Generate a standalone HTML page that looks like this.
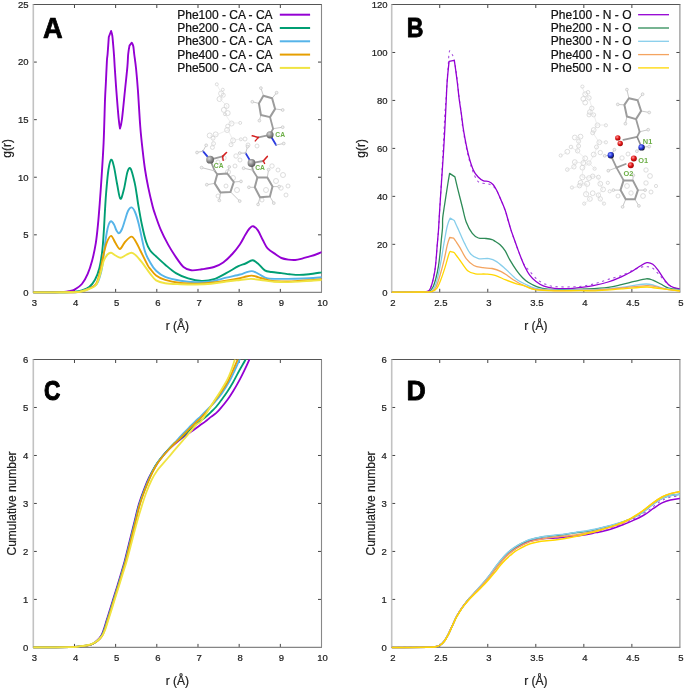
<!DOCTYPE html>
<html><head><meta charset="utf-8"><title>RDF plots</title>
<style>
html,body{margin:0;padding:0;background:#fff;}
body{width:685px;height:689px;overflow:hidden;}
svg{display:block;font-family:"Liberation Sans",sans-serif;}
svg{will-change:transform;}
</style></head><body>
<svg width="685" height="689" viewBox="0 0 685 689">
<rect width="685" height="689" fill="#fff"/>
<text x="0" y="0" font-size="29.5" font-weight="bold" fill="#000" stroke="#000" stroke-width="0.73" stroke-linejoin="round" transform="translate(43.07 38.15) scale(0.924 1)">A</text>
<text x="0" y="0" font-size="27.76" font-weight="bold" fill="#000" stroke="#000" stroke-width="0.87" stroke-linejoin="round" transform="translate(406.75 37.40) scale(0.833 1)">B</text>
<text x="0" y="0" font-size="27.6" font-weight="bold" fill="#000" stroke="#000" stroke-width="1.10" stroke-linejoin="round" transform="translate(43.90 399.93) scale(0.820 1)">C</text>
<text x="0" y="0" font-size="28.5" font-weight="bold" fill="#000" stroke="#000" stroke-width="0.83" stroke-linejoin="round" transform="translate(406.50 400.20) scale(0.939 1)">D</text>
<text x="34.40" y="305.70" font-size="9.5" text-anchor="middle" font-weight="normal" fill="#222" stroke="#222" stroke-width="0.22">3</text>
<text x="75.57" y="305.70" font-size="9.5" text-anchor="middle" font-weight="normal" fill="#222" stroke="#222" stroke-width="0.22">4</text>
<text x="116.74" y="305.70" font-size="9.5" text-anchor="middle" font-weight="normal" fill="#222" stroke="#222" stroke-width="0.22">5</text>
<text x="157.91" y="305.70" font-size="9.5" text-anchor="middle" font-weight="normal" fill="#222" stroke="#222" stroke-width="0.22">6</text>
<text x="199.09" y="305.70" font-size="9.5" text-anchor="middle" font-weight="normal" fill="#222" stroke="#222" stroke-width="0.22">7</text>
<text x="240.26" y="305.70" font-size="9.5" text-anchor="middle" font-weight="normal" fill="#222" stroke="#222" stroke-width="0.22">8</text>
<text x="281.43" y="305.70" font-size="9.5" text-anchor="middle" font-weight="normal" fill="#222" stroke="#222" stroke-width="0.22">9</text>
<text x="322.60" y="305.70" font-size="9.5" text-anchor="middle" font-weight="normal" fill="#222" stroke="#222" stroke-width="0.22">10</text>
<text x="28.60" y="295.70" font-size="9.5" text-anchor="end" font-weight="normal" fill="#222" stroke="#222" stroke-width="0.22">0</text>
<text x="28.60" y="238.12" font-size="9.5" text-anchor="end" font-weight="normal" fill="#222" stroke="#222" stroke-width="0.22">5</text>
<text x="28.60" y="180.54" font-size="9.5" text-anchor="end" font-weight="normal" fill="#222" stroke="#222" stroke-width="0.22">10</text>
<text x="28.60" y="122.96" font-size="9.5" text-anchor="end" font-weight="normal" fill="#222" stroke="#222" stroke-width="0.22">15</text>
<text x="28.60" y="65.38" font-size="9.5" text-anchor="end" font-weight="normal" fill="#222" stroke="#222" stroke-width="0.22">20</text>
<text x="28.60" y="7.80" font-size="9.5" text-anchor="end" font-weight="normal" fill="#222" stroke="#222" stroke-width="0.22">25</text>
<text x="392.80" y="305.70" font-size="9.5" text-anchor="middle" font-weight="normal" fill="#222" stroke="#222" stroke-width="0.22">2</text>
<text x="440.83" y="305.70" font-size="9.5" text-anchor="middle" font-weight="normal" fill="#222" stroke="#222" stroke-width="0.22">2.5</text>
<text x="488.87" y="305.70" font-size="9.5" text-anchor="middle" font-weight="normal" fill="#222" stroke="#222" stroke-width="0.22">3</text>
<text x="536.90" y="305.70" font-size="9.5" text-anchor="middle" font-weight="normal" fill="#222" stroke="#222" stroke-width="0.22">3.5</text>
<text x="584.93" y="305.70" font-size="9.5" text-anchor="middle" font-weight="normal" fill="#222" stroke="#222" stroke-width="0.22">4</text>
<text x="632.97" y="305.70" font-size="9.5" text-anchor="middle" font-weight="normal" fill="#222" stroke="#222" stroke-width="0.22">4.5</text>
<text x="681.00" y="305.70" font-size="9.5" text-anchor="middle" font-weight="normal" fill="#222" stroke="#222" stroke-width="0.22">5</text>
<text x="387.50" y="295.60" font-size="9.5" text-anchor="end" font-weight="normal" fill="#222" stroke="#222" stroke-width="0.22">0</text>
<text x="387.50" y="247.63" font-size="9.5" text-anchor="end" font-weight="normal" fill="#222" stroke="#222" stroke-width="0.22">20</text>
<text x="387.50" y="199.67" font-size="9.5" text-anchor="end" font-weight="normal" fill="#222" stroke="#222" stroke-width="0.22">40</text>
<text x="387.50" y="151.70" font-size="9.5" text-anchor="end" font-weight="normal" fill="#222" stroke="#222" stroke-width="0.22">60</text>
<text x="387.50" y="103.73" font-size="9.5" text-anchor="end" font-weight="normal" fill="#222" stroke="#222" stroke-width="0.22">80</text>
<text x="387.50" y="55.77" font-size="9.5" text-anchor="end" font-weight="normal" fill="#222" stroke="#222" stroke-width="0.22">100</text>
<text x="387.50" y="7.80" font-size="9.5" text-anchor="end" font-weight="normal" fill="#222" stroke="#222" stroke-width="0.22">120</text>
<text x="34.40" y="660.70" font-size="9.5" text-anchor="middle" font-weight="normal" fill="#222" stroke="#222" stroke-width="0.22">3</text>
<text x="75.57" y="660.70" font-size="9.5" text-anchor="middle" font-weight="normal" fill="#222" stroke="#222" stroke-width="0.22">4</text>
<text x="116.74" y="660.70" font-size="9.5" text-anchor="middle" font-weight="normal" fill="#222" stroke="#222" stroke-width="0.22">5</text>
<text x="157.91" y="660.70" font-size="9.5" text-anchor="middle" font-weight="normal" fill="#222" stroke="#222" stroke-width="0.22">6</text>
<text x="199.09" y="660.70" font-size="9.5" text-anchor="middle" font-weight="normal" fill="#222" stroke="#222" stroke-width="0.22">7</text>
<text x="240.26" y="660.70" font-size="9.5" text-anchor="middle" font-weight="normal" fill="#222" stroke="#222" stroke-width="0.22">8</text>
<text x="281.43" y="660.70" font-size="9.5" text-anchor="middle" font-weight="normal" fill="#222" stroke="#222" stroke-width="0.22">9</text>
<text x="322.60" y="660.70" font-size="9.5" text-anchor="middle" font-weight="normal" fill="#222" stroke="#222" stroke-width="0.22">10</text>
<text x="28.30" y="650.70" font-size="9.5" text-anchor="end" font-weight="normal" fill="#222" stroke="#222" stroke-width="0.22">0</text>
<text x="28.30" y="602.72" font-size="9.5" text-anchor="end" font-weight="normal" fill="#222" stroke="#222" stroke-width="0.22">1</text>
<text x="28.30" y="554.73" font-size="9.5" text-anchor="end" font-weight="normal" fill="#222" stroke="#222" stroke-width="0.22">2</text>
<text x="28.30" y="506.75" font-size="9.5" text-anchor="end" font-weight="normal" fill="#222" stroke="#222" stroke-width="0.22">3</text>
<text x="28.30" y="458.77" font-size="9.5" text-anchor="end" font-weight="normal" fill="#222" stroke="#222" stroke-width="0.22">4</text>
<text x="28.30" y="410.78" font-size="9.5" text-anchor="end" font-weight="normal" fill="#222" stroke="#222" stroke-width="0.22">5</text>
<text x="28.30" y="362.80" font-size="9.5" text-anchor="end" font-weight="normal" fill="#222" stroke="#222" stroke-width="0.22">6</text>
<text x="392.80" y="660.70" font-size="9.5" text-anchor="middle" font-weight="normal" fill="#222" stroke="#222" stroke-width="0.22">2</text>
<text x="440.83" y="660.70" font-size="9.5" text-anchor="middle" font-weight="normal" fill="#222" stroke="#222" stroke-width="0.22">2.5</text>
<text x="488.87" y="660.70" font-size="9.5" text-anchor="middle" font-weight="normal" fill="#222" stroke="#222" stroke-width="0.22">3</text>
<text x="536.90" y="660.70" font-size="9.5" text-anchor="middle" font-weight="normal" fill="#222" stroke="#222" stroke-width="0.22">3.5</text>
<text x="584.93" y="660.70" font-size="9.5" text-anchor="middle" font-weight="normal" fill="#222" stroke="#222" stroke-width="0.22">4</text>
<text x="632.97" y="660.70" font-size="9.5" text-anchor="middle" font-weight="normal" fill="#222" stroke="#222" stroke-width="0.22">4.5</text>
<text x="681.00" y="660.70" font-size="9.5" text-anchor="middle" font-weight="normal" fill="#222" stroke="#222" stroke-width="0.22">5</text>
<text x="386.90" y="650.70" font-size="9.5" text-anchor="end" font-weight="normal" fill="#222" stroke="#222" stroke-width="0.22">0</text>
<text x="386.90" y="602.72" font-size="9.5" text-anchor="end" font-weight="normal" fill="#222" stroke="#222" stroke-width="0.22">1</text>
<text x="386.90" y="554.73" font-size="9.5" text-anchor="end" font-weight="normal" fill="#222" stroke="#222" stroke-width="0.22">2</text>
<text x="386.90" y="506.75" font-size="9.5" text-anchor="end" font-weight="normal" fill="#222" stroke="#222" stroke-width="0.22">3</text>
<text x="386.90" y="458.77" font-size="9.5" text-anchor="end" font-weight="normal" fill="#222" stroke="#222" stroke-width="0.22">4</text>
<text x="386.90" y="410.78" font-size="9.5" text-anchor="end" font-weight="normal" fill="#222" stroke="#222" stroke-width="0.22">5</text>
<text x="386.90" y="362.80" font-size="9.5" text-anchor="end" font-weight="normal" fill="#222" stroke="#222" stroke-width="0.22">6</text>
<text x="177.40" y="329.60" font-size="12" text-anchor="middle" font-weight="normal" fill="#222" stroke="#222" stroke-width="0.22">r (&#197;)</text>
<text x="535.80" y="329.60" font-size="12" text-anchor="middle" font-weight="normal" fill="#222" stroke="#222" stroke-width="0.22">r (&#197;)</text>
<text x="177.40" y="684.60" font-size="12" text-anchor="middle" font-weight="normal" fill="#222" stroke="#222" stroke-width="0.22">r (&#197;)</text>
<text x="535.80" y="684.60" font-size="12" text-anchor="middle" font-weight="normal" fill="#222" stroke="#222" stroke-width="0.22">r (&#197;)</text>
<text x="0" y="0" font-size="12" text-anchor="middle" fill="#222" stroke="#222" stroke-width="0.22" transform="translate(10.80 148.45) rotate(-90)">g(r)</text>
<text x="0" y="0" font-size="12" text-anchor="middle" fill="#222" stroke="#222" stroke-width="0.22" transform="translate(364.90 148.40) rotate(-90)">g(r)</text>
<text x="0" y="0" font-size="12" text-anchor="middle" fill="#222" stroke="#222" stroke-width="0.22" transform="translate(16.00 503.45) rotate(-90)">Cumulative number</text>
<text x="0" y="0" font-size="12" text-anchor="middle" fill="#222" stroke="#222" stroke-width="0.22" transform="translate(374.80 503.45) rotate(-90)">Cumulative number</text>
<text x="272.60" y="18.70" font-size="12" text-anchor="end" font-weight="normal" fill="#111" stroke="#111" stroke-width="0.22">Phe100 - CA - CA</text>
<path d="M279.8 14.70H310.1" stroke="#9400d3" stroke-width="2"/>
<text x="631.50" y="18.70" font-size="12" text-anchor="end" font-weight="normal" fill="#111" stroke="#111" stroke-width="0.22">Phe100 - N - O</text>
<path d="M638.1 14.70H669.0" stroke="#9400d3" stroke-width="1.3"/>
<text x="272.60" y="32.00" font-size="12" text-anchor="end" font-weight="normal" fill="#111" stroke="#111" stroke-width="0.22">Phe200 - CA - CA</text>
<path d="M279.8 28.00H310.1" stroke="#009e73" stroke-width="2"/>
<text x="631.50" y="32.00" font-size="12" text-anchor="end" font-weight="normal" fill="#111" stroke="#111" stroke-width="0.22">Phe200 - N - O</text>
<path d="M638.1 28.00H669.0" stroke="#2e8b57" stroke-width="1.3"/>
<text x="272.60" y="45.30" font-size="12" text-anchor="end" font-weight="normal" fill="#111" stroke="#111" stroke-width="0.22">Phe300 - CA - CA</text>
<path d="M279.8 41.30H310.1" stroke="#56b4e9" stroke-width="2"/>
<text x="631.50" y="45.30" font-size="12" text-anchor="end" font-weight="normal" fill="#111" stroke="#111" stroke-width="0.22">Phe300 - N - O</text>
<path d="M638.1 41.30H669.0" stroke="#87ceeb" stroke-width="1.3"/>
<text x="272.60" y="58.60" font-size="12" text-anchor="end" font-weight="normal" fill="#111" stroke="#111" stroke-width="0.22">Phe400 - CA - CA</text>
<path d="M279.8 54.60H310.1" stroke="#e69f00" stroke-width="2"/>
<text x="631.50" y="58.60" font-size="12" text-anchor="end" font-weight="normal" fill="#111" stroke="#111" stroke-width="0.22">Phe400 - N - O</text>
<path d="M638.1 54.60H669.0" stroke="#f4a460" stroke-width="1.3"/>
<text x="272.60" y="71.90" font-size="12" text-anchor="end" font-weight="normal" fill="#111" stroke="#111" stroke-width="0.22">Phe500 - CA - CA</text>
<path d="M279.8 67.90H310.1" stroke="#f0e442" stroke-width="2"/>
<text x="631.50" y="71.90" font-size="12" text-anchor="end" font-weight="normal" fill="#111" stroke="#111" stroke-width="0.22">Phe500 - N - O</text>
<path d="M638.1 67.90H669.0" stroke="#ffd700" stroke-width="1.3"/>
<path d="M74.47 292.40V288.90M74.47 4.50V8.00M115.64 292.40V288.90M115.64 4.50V8.00M156.81 292.40V288.90M156.81 4.50V8.00M197.99 292.40V288.90M197.99 4.50V8.00M239.16 292.40V288.90M239.16 4.50V8.00M280.33 292.40V288.90M280.33 4.50V8.00M33.30 234.82H36.80M321.50 234.82H318.00M33.30 177.24H36.80M321.50 177.24H318.00M33.30 119.66H36.80M321.50 119.66H318.00M33.30 62.08H36.80M321.50 62.08H318.00" stroke="#444" stroke-width="1" fill="none"/>
<path d="M32.80 4.50H322.00" stroke="#555" stroke-width="1.05" fill="none"/>
<path d="M32.80 292.40H322.00" stroke="#858585" stroke-width="1.1" fill="none"/>
<path d="M33.30 4.50V292.40" stroke="#c2c2c2" stroke-width="1.6" fill="none"/>
<path d="M321.50 4.50V292.40" stroke="#888" stroke-width="1.1" fill="none"/>
<path d="M439.73 292.30V288.80M439.73 4.50V8.00M487.77 292.30V288.80M487.77 4.50V8.00M535.80 292.30V288.80M535.80 4.50V8.00M583.83 292.30V288.80M583.83 4.50V8.00M631.87 292.30V288.80M631.87 4.50V8.00M391.70 244.33H395.20M679.90 244.33H676.40M391.70 196.37H395.20M679.90 196.37H676.40M391.70 148.40H395.20M679.90 148.40H676.40M391.70 100.43H395.20M679.90 100.43H676.40M391.70 52.47H395.20M679.90 52.47H676.40" stroke="#444" stroke-width="1" fill="none"/>
<path d="M391.20 4.50H680.40" stroke="#555" stroke-width="1.05" fill="none"/>
<path d="M391.20 292.30H680.40" stroke="#858585" stroke-width="1.1" fill="none"/>
<path d="M391.70 4.50V292.30" stroke="#c2c2c2" stroke-width="1.6" fill="none"/>
<path d="M679.90 4.50V292.30" stroke="#888" stroke-width="1.1" fill="none"/>
<path d="M74.47 647.40V643.90M74.47 359.50V363.00M115.64 647.40V643.90M115.64 359.50V363.00M156.81 647.40V643.90M156.81 359.50V363.00M197.99 647.40V643.90M197.99 359.50V363.00M239.16 647.40V643.90M239.16 359.50V363.00M280.33 647.40V643.90M280.33 359.50V363.00M33.30 599.42H36.80M321.50 599.42H318.00M33.30 551.43H36.80M321.50 551.43H318.00M33.30 503.45H36.80M321.50 503.45H318.00M33.30 455.47H36.80M321.50 455.47H318.00M33.30 407.48H36.80M321.50 407.48H318.00" stroke="#444" stroke-width="1" fill="none"/>
<path d="M32.80 359.50H322.00" stroke="#555" stroke-width="1.05" fill="none"/>
<path d="M32.80 647.40H322.00" stroke="#858585" stroke-width="1.1" fill="none"/>
<path d="M33.30 359.50V647.40" stroke="#c2c2c2" stroke-width="1.6" fill="none"/>
<path d="M321.50 359.50V647.40" stroke="#888" stroke-width="1.1" fill="none"/>
<path d="M439.73 647.40V643.90M439.73 359.50V363.00M487.77 647.40V643.90M487.77 359.50V363.00M535.80 647.40V643.90M535.80 359.50V363.00M583.83 647.40V643.90M583.83 359.50V363.00M631.87 647.40V643.90M631.87 359.50V363.00M391.70 599.42H395.20M679.90 599.42H676.40M391.70 551.43H395.20M679.90 551.43H676.40M391.70 503.45H395.20M679.90 503.45H676.40M391.70 455.47H395.20M679.90 455.47H676.40M391.70 407.48H395.20M679.90 407.48H676.40" stroke="#444" stroke-width="1" fill="none"/>
<path d="M391.20 359.50H680.40" stroke="#555" stroke-width="1.05" fill="none"/>
<path d="M391.20 647.40H680.40" stroke="#858585" stroke-width="1.1" fill="none"/>
<path d="M391.70 359.50V647.40" stroke="#c2c2c2" stroke-width="1.6" fill="none"/>
<path d="M679.90 359.50V647.40" stroke="#888" stroke-width="1.1" fill="none"/>
<defs>
<radialGradient id="gball" cx="0.38" cy="0.35" r="0.7"><stop offset="0" stop-color="#d8d8d8"/><stop offset="0.55" stop-color="#8a8a8a"/><stop offset="1" stop-color="#555"/></radialGradient>
<radialGradient id="gred" cx="0.38" cy="0.35" r="0.7"><stop offset="0" stop-color="#ff9a9a"/><stop offset="0.5" stop-color="#e01818"/><stop offset="1" stop-color="#900"/></radialGradient>
<radialGradient id="gblue" cx="0.38" cy="0.35" r="0.7"><stop offset="0" stop-color="#9aa8ff"/><stop offset="0.5" stop-color="#2233dd"/><stop offset="1" stop-color="#112"/></radialGradient>
</defs><g><circle cx="216.8" cy="84.3" r="1.5" fill="none" stroke="#cfcfcf" stroke-width="0.7"/><circle cx="221.1" cy="93.5" r="2.5" fill="none" stroke="#cfcfcf" stroke-width="0.7"/><circle cx="223.3" cy="95.2" r="2" fill="none" stroke="#cfcfcf" stroke-width="0.7"/><circle cx="219.5" cy="99.0" r="2.5" fill="none" stroke="#cfcfcf" stroke-width="0.7"/><circle cx="222.8" cy="89.7" r="1.5" fill="none" stroke="#cfcfcf" stroke-width="0.7"/><circle cx="226.6" cy="106.0" r="2.5" fill="none" stroke="#cfcfcf" stroke-width="0.7"/><circle cx="223.9" cy="109.9" r="2.5" fill="none" stroke="#cfcfcf" stroke-width="0.7"/><circle cx="227.7" cy="113.1" r="2.5" fill="none" stroke="#cfcfcf" stroke-width="0.7"/><circle cx="225.0" cy="114.2" r="1.5" fill="none" stroke="#cfcfcf" stroke-width="0.7"/><circle cx="231.5" cy="123.5" r="2.5" fill="none" stroke="#cfcfcf" stroke-width="0.7"/><circle cx="227.7" cy="126.2" r="2" fill="none" stroke="#cfcfcf" stroke-width="0.7"/><circle cx="227.1" cy="130.0" r="2.5" fill="none" stroke="#cfcfcf" stroke-width="0.7"/><circle cx="240.2" cy="122.9" r="1.5" fill="none" stroke="#cfcfcf" stroke-width="0.7"/><circle cx="215.7" cy="134.4" r="2.5" fill="none" stroke="#cfcfcf" stroke-width="0.7"/><circle cx="209.7" cy="135.5" r="2.5" fill="none" stroke="#cfcfcf" stroke-width="0.7"/><circle cx="213.0" cy="138.2" r="2" fill="none" stroke="#cfcfcf" stroke-width="0.7"/><circle cx="233.1" cy="140.4" r="2.5" fill="none" stroke="#cfcfcf" stroke-width="0.7"/><circle cx="240.8" cy="139.3" r="1.5" fill="none" stroke="#cfcfcf" stroke-width="0.7"/><circle cx="213.5" cy="143.6" r="2" fill="none" stroke="#cfcfcf" stroke-width="0.7"/><circle cx="231.0" cy="144.7" r="2" fill="none" stroke="#cfcfcf" stroke-width="0.7"/><circle cx="212.4" cy="147.4" r="2" fill="none" stroke="#cfcfcf" stroke-width="0.7"/><circle cx="218.0" cy="162.0" r="2" fill="none" stroke="#cfcfcf" stroke-width="0.7"/><circle cx="224.0" cy="158.0" r="2.2" fill="none" stroke="#cfcfcf" stroke-width="0.7"/><circle cx="236.0" cy="156.0" r="2.2" fill="none" stroke="#cfcfcf" stroke-width="0.7"/><circle cx="240.0" cy="160.0" r="2" fill="none" stroke="#cfcfcf" stroke-width="0.7"/><circle cx="235.0" cy="166.0" r="2" fill="none" stroke="#cfcfcf" stroke-width="0.7"/><circle cx="228.0" cy="172.0" r="2.5" fill="none" stroke="#cfcfcf" stroke-width="0.7"/><circle cx="233.0" cy="178.0" r="2.5" fill="none" stroke="#cfcfcf" stroke-width="0.7"/><circle cx="226.0" cy="186.0" r="2" fill="none" stroke="#cfcfcf" stroke-width="0.7"/><circle cx="237.0" cy="190.0" r="2.5" fill="none" stroke="#cfcfcf" stroke-width="0.7"/><circle cx="218.0" cy="196.0" r="2" fill="none" stroke="#cfcfcf" stroke-width="0.7"/><circle cx="272.0" cy="166.0" r="2.2" fill="none" stroke="#cfcfcf" stroke-width="0.7"/><circle cx="278.0" cy="170.0" r="2" fill="none" stroke="#cfcfcf" stroke-width="0.7"/><circle cx="283.0" cy="175.0" r="2.5" fill="none" stroke="#cfcfcf" stroke-width="0.7"/><circle cx="276.0" cy="181.0" r="2.5" fill="none" stroke="#cfcfcf" stroke-width="0.7"/><circle cx="281.0" cy="188.0" r="2.2" fill="none" stroke="#cfcfcf" stroke-width="0.7"/><circle cx="288.0" cy="186.0" r="2" fill="none" stroke="#cfcfcf" stroke-width="0.7"/><circle cx="286.0" cy="195.0" r="2" fill="none" stroke="#cfcfcf" stroke-width="0.7"/><circle cx="266.0" cy="190.0" r="2.5" fill="none" stroke="#cfcfcf" stroke-width="0.7"/><circle cx="262.0" cy="200.0" r="2" fill="none" stroke="#cfcfcf" stroke-width="0.7"/><circle cx="245.0" cy="139.0" r="2" fill="none" stroke="#cfcfcf" stroke-width="0.7"/><circle cx="248.0" cy="145.0" r="2" fill="none" stroke="#cfcfcf" stroke-width="0.7"/><circle cx="257.0" cy="146.0" r="2" fill="none" stroke="#cfcfcf" stroke-width="0.7"/><path d="M217 85L222 94L220 99L227 106L225 114L231 123L228 130L216 135L210 136M231 123L240 123M228 130L233 140L241 139M233 140L231 145M213 138L213 144L212 147" fill="none" stroke="#e2e2e2" stroke-width="0.6"/><path d="M263.4 95.7L260.9 88.1" stroke="#c8c8c8" stroke-width="1.0" stroke-linecap="round"/><circle cx="260.9" cy="88.1" r="1.4" fill="#f2f2f2" stroke="#c4c4c4" stroke-width="0.7"/><path d="M272.1 98.3L276.6 92.7" stroke="#c8c8c8" stroke-width="1.0" stroke-linecap="round"/><circle cx="276.6" cy="92.7" r="1.4" fill="#f2f2f2" stroke="#c4c4c4" stroke-width="0.7"/><path d="M275.1 108.9L282.7 110.0" stroke="#c8c8c8" stroke-width="1.0" stroke-linecap="round"/><circle cx="282.7" cy="110.0" r="1.4" fill="#f2f2f2" stroke="#c4c4c4" stroke-width="0.7"/><path d="M260.9 115.0L259.4 120.6" stroke="#c8c8c8" stroke-width="1.0" stroke-linecap="round"/><circle cx="259.4" cy="120.6" r="1.4" fill="#f2f2f2" stroke="#c4c4c4" stroke-width="0.7"/><path d="M258.9 103.4L252.3 101.8" stroke="#c8c8c8" stroke-width="1.0" stroke-linecap="round"/><circle cx="252.3" cy="101.8" r="1.4" fill="#f2f2f2" stroke="#c4c4c4" stroke-width="0.7"/><path d="M263.4 95.7 L272.1 98.3 L275.1 108.9 L270.0 117.1 L260.9 115.0 L258.9 103.4 Z" fill="none" stroke="#9c9c9c" stroke-width="2.0" stroke-linejoin="round"/><path d="M270.0 117.1L273.1 128.7" stroke="#9c9c9c" stroke-width="1.8" stroke-linecap="round"/><path d="M273.1 128.7L282.7 127.2" stroke="#c8c8c8" stroke-width="1.0" stroke-linecap="round"/><circle cx="282.7" cy="127.2" r="1.4" fill="#f2f2f2" stroke="#c4c4c4" stroke-width="0.7"/><path d="M273.1 128.7L270.0 134.8" stroke="#9c9c9c" stroke-width="1.8" stroke-linecap="round"/><path d="M270.0 134.8L258.4 137.4" stroke="#9c9c9c" stroke-width="1.8" stroke-linecap="round"/><path d="M258.4 137.4L252.3 135.8" stroke="#d42020" stroke-width="1.6" stroke-linecap="round"/><path d="M258.4 137.4L255.3 140.9" stroke="#d42020" stroke-width="1.4" stroke-linecap="round"/><path d="M270.0 134.8L276.1 145.0" stroke="#2b3be0" stroke-width="1.8" stroke-linecap="round"/><path d="M276.1 145.0L283.7 143.5" stroke="#c8c8c8" stroke-width="1.0" stroke-linecap="round"/><circle cx="283.7" cy="143.5" r="1.4" fill="#f2f2f2" stroke="#c4c4c4" stroke-width="0.7"/><circle cx="270.0" cy="134.8" r="3.6" fill="url(#gball)"/><text x="275.3" y="136.6" font-size="6.7" font-weight="bold" fill="#6cae46">CA</text><path d="M227.2 173.5L229.2 166.9" stroke="#c8c8c8" stroke-width="1.0" stroke-linecap="round"/><circle cx="229.2" cy="166.9" r="1.4" fill="#f2f2f2" stroke="#c4c4c4" stroke-width="0.7"/><path d="M233.8 182.0L241.0 181.4" stroke="#c8c8c8" stroke-width="1.0" stroke-linecap="round"/><circle cx="241.0" cy="181.4" r="1.4" fill="#f2f2f2" stroke="#c4c4c4" stroke-width="0.7"/><path d="M230.5 191.9L239.7 201.1" stroke="#c8c8c8" stroke-width="1.0" stroke-linecap="round"/><circle cx="239.7" cy="201.1" r="1.4" fill="#f2f2f2" stroke="#c4c4c4" stroke-width="0.7"/><path d="M220.6 192.6L219.3 200.4" stroke="#c8c8c8" stroke-width="1.0" stroke-linecap="round"/><circle cx="219.3" cy="200.4" r="1.4" fill="#f2f2f2" stroke="#c4c4c4" stroke-width="0.7"/><path d="M214.7 183.4L206.8 184.7" stroke="#c8c8c8" stroke-width="1.0" stroke-linecap="round"/><circle cx="206.8" cy="184.7" r="1.4" fill="#f2f2f2" stroke="#c4c4c4" stroke-width="0.7"/><path d="M217.3 174.2 L227.2 173.5 L233.8 182.0 L230.5 191.9 L220.6 192.6 L214.7 183.4 Z" fill="none" stroke="#9c9c9c" stroke-width="2.0" stroke-linejoin="round"/><path d="M210.1 159.7L214.7 170.9" stroke="#9c9c9c" stroke-width="1.8" stroke-linecap="round"/><path d="M214.7 170.9L217.3 174.2" stroke="#9c9c9c" stroke-width="1.8" stroke-linecap="round"/><path d="M214.7 170.9L201.6 167.6" stroke="#c8c8c8" stroke-width="1.0" stroke-linecap="round"/><circle cx="201.6" cy="167.6" r="1.4" fill="#f2f2f2" stroke="#c4c4c4" stroke-width="0.7"/><path d="M210.1 159.7L222.6 156.4" stroke="#9c9c9c" stroke-width="1.8" stroke-linecap="round"/><path d="M222.6 156.4L226.5 152.5" stroke="#d42020" stroke-width="1.6" stroke-linecap="round"/><path d="M222.6 156.4L223.2 160.4" stroke="#d42020" stroke-width="1.4" stroke-linecap="round"/><path d="M210.1 159.7L202.9 151.2" stroke="#2b3be0" stroke-width="1.8" stroke-linecap="round"/><path d="M202.9 151.2L197.0 152.5" stroke="#c8c8c8" stroke-width="1.0" stroke-linecap="round"/><circle cx="197.0" cy="152.5" r="1.4" fill="#f2f2f2" stroke="#c4c4c4" stroke-width="0.7"/><path d="M202.9 151.2L206.2 145.3" stroke="#c8c8c8" stroke-width="1.0" stroke-linecap="round"/><circle cx="206.2" cy="145.3" r="1.4" fill="#f2f2f2" stroke="#c4c4c4" stroke-width="0.7"/><circle cx="210.1" cy="159.7" r="3.9" fill="url(#gball)"/><text x="213.8" y="167.6" font-size="6.7" font-weight="bold" fill="#6cae46">CA</text><path d="M267.3 177.4L268.6 169.6" stroke="#c8c8c8" stroke-width="1.0" stroke-linecap="round"/><circle cx="268.6" cy="169.6" r="1.4" fill="#f2f2f2" stroke="#c4c4c4" stroke-width="0.7"/><path d="M272.5 186.6L279.1 186.6" stroke="#c8c8c8" stroke-width="1.0" stroke-linecap="round"/><circle cx="279.1" cy="186.6" r="1.4" fill="#f2f2f2" stroke="#c4c4c4" stroke-width="0.7"/><path d="M269.9 196.5L273.8 203.1" stroke="#c8c8c8" stroke-width="1.0" stroke-linecap="round"/><circle cx="273.8" cy="203.1" r="1.4" fill="#f2f2f2" stroke="#c4c4c4" stroke-width="0.7"/><path d="M260.0 197.2L258.1 204.4" stroke="#c8c8c8" stroke-width="1.0" stroke-linecap="round"/><circle cx="258.1" cy="204.4" r="1.4" fill="#f2f2f2" stroke="#c4c4c4" stroke-width="0.7"/><path d="M254.8 187.3L248.9 187.3" stroke="#c8c8c8" stroke-width="1.0" stroke-linecap="round"/><circle cx="248.9" cy="187.3" r="1.4" fill="#f2f2f2" stroke="#c4c4c4" stroke-width="0.7"/><path d="M257.4 177.4 L267.3 177.4 L272.5 186.6 L269.9 196.5 L260.0 197.2 L254.8 187.3 Z" fill="none" stroke="#9c9c9c" stroke-width="2.0" stroke-linejoin="round"/><path d="M251.5 163.0L252.8 170.2" stroke="#9c9c9c" stroke-width="1.8" stroke-linecap="round"/><path d="M252.8 170.2L257.4 177.4" stroke="#9c9c9c" stroke-width="1.8" stroke-linecap="round"/><path d="M252.8 170.2L243.6 168.2" stroke="#c8c8c8" stroke-width="1.0" stroke-linecap="round"/><circle cx="243.6" cy="168.2" r="1.4" fill="#f2f2f2" stroke="#c4c4c4" stroke-width="0.7"/><path d="M251.5 163.0L263.3 161.0" stroke="#9c9c9c" stroke-width="1.8" stroke-linecap="round"/><path d="M263.3 161.0L267.3 156.4" stroke="#d42020" stroke-width="1.6" stroke-linecap="round"/><path d="M263.3 161.0L264.6 163.5" stroke="#d42020" stroke-width="1.4" stroke-linecap="round"/><path d="M251.5 163.0L245.6 153.1" stroke="#2b3be0" stroke-width="1.8" stroke-linecap="round"/><path d="M245.6 153.1L239.7 153.1" stroke="#c8c8c8" stroke-width="1.0" stroke-linecap="round"/><circle cx="239.7" cy="153.1" r="1.4" fill="#f2f2f2" stroke="#c4c4c4" stroke-width="0.7"/><path d="M245.6 153.1L247.6 146.6" stroke="#c8c8c8" stroke-width="1.0" stroke-linecap="round"/><circle cx="247.6" cy="146.6" r="1.4" fill="#f2f2f2" stroke="#c4c4c4" stroke-width="0.7"/><circle cx="251.5" cy="163.0" r="3.9" fill="url(#gball)"/><text x="255.2" y="169.6" font-size="6.7" font-weight="bold" fill="#6cae46">CA</text></g>
<g><circle cx="582.4" cy="86.6" r="1.6" fill="none" stroke="#cfcfcf" stroke-width="0.7"/><circle cx="585.2" cy="94.2" r="2.4" fill="none" stroke="#cfcfcf" stroke-width="0.7"/><circle cx="588.0" cy="92.3" r="1.8" fill="none" stroke="#cfcfcf" stroke-width="0.7"/><circle cx="583.3" cy="98.9" r="2.4" fill="none" stroke="#cfcfcf" stroke-width="0.7"/><circle cx="589.0" cy="97.9" r="2.2" fill="none" stroke="#cfcfcf" stroke-width="0.7"/><circle cx="585.2" cy="102.6" r="2.4" fill="none" stroke="#cfcfcf" stroke-width="0.7"/><circle cx="591.8" cy="108.3" r="2.2" fill="none" stroke="#cfcfcf" stroke-width="0.7"/><circle cx="589.9" cy="112.1" r="2.4" fill="none" stroke="#cfcfcf" stroke-width="0.7"/><circle cx="593.7" cy="114.9" r="2" fill="none" stroke="#cfcfcf" stroke-width="0.7"/><circle cx="589.0" cy="114.9" r="2" fill="none" stroke="#cfcfcf" stroke-width="0.7"/><circle cx="597.5" cy="125.3" r="2.4" fill="none" stroke="#cfcfcf" stroke-width="0.7"/><circle cx="593.7" cy="130.0" r="2.4" fill="none" stroke="#cfcfcf" stroke-width="0.7"/><circle cx="592.7" cy="132.8" r="2" fill="none" stroke="#cfcfcf" stroke-width="0.7"/><circle cx="605.9" cy="125.3" r="1.6" fill="none" stroke="#cfcfcf" stroke-width="0.7"/><circle cx="574.8" cy="137.5" r="2.4" fill="none" stroke="#cfcfcf" stroke-width="0.7"/><circle cx="580.5" cy="136.6" r="2.4" fill="none" stroke="#cfcfcf" stroke-width="0.7"/><circle cx="578.6" cy="141.3" r="2" fill="none" stroke="#cfcfcf" stroke-width="0.7"/><circle cx="599.3" cy="142.3" r="2.4" fill="none" stroke="#cfcfcf" stroke-width="0.7"/><circle cx="605.9" cy="142.3" r="1.6" fill="none" stroke="#cfcfcf" stroke-width="0.7"/><circle cx="596.5" cy="147.0" r="2" fill="none" stroke="#cfcfcf" stroke-width="0.7"/><circle cx="571.0" cy="147.0" r="1.8" fill="none" stroke="#cfcfcf" stroke-width="0.7"/><circle cx="578.6" cy="146.0" r="2" fill="none" stroke="#cfcfcf" stroke-width="0.7"/><circle cx="567.3" cy="151.7" r="2.4" fill="none" stroke="#cfcfcf" stroke-width="0.7"/><circle cx="560.7" cy="155.5" r="1.6" fill="none" stroke="#cfcfcf" stroke-width="0.7"/><circle cx="577.6" cy="150.8" r="2.2" fill="none" stroke="#cfcfcf" stroke-width="0.7"/><circle cx="593.7" cy="154.5" r="2.4" fill="none" stroke="#cfcfcf" stroke-width="0.7"/><circle cx="600.3" cy="152.6" r="2.2" fill="none" stroke="#cfcfcf" stroke-width="0.7"/><circle cx="585.2" cy="158.3" r="2.4" fill="none" stroke="#cfcfcf" stroke-width="0.7"/><circle cx="574.8" cy="162.1" r="2.4" fill="none" stroke="#cfcfcf" stroke-width="0.7"/><circle cx="583.3" cy="163.0" r="2.4" fill="none" stroke="#cfcfcf" stroke-width="0.7"/><circle cx="589.0" cy="163.0" r="2.2" fill="none" stroke="#cfcfcf" stroke-width="0.7"/><circle cx="573.9" cy="166.8" r="2.2" fill="none" stroke="#cfcfcf" stroke-width="0.7"/><circle cx="582.4" cy="167.7" r="2.4" fill="none" stroke="#cfcfcf" stroke-width="0.7"/><circle cx="567.3" cy="169.6" r="1.8" fill="none" stroke="#cfcfcf" stroke-width="0.7"/><circle cx="594.6" cy="168.7" r="1.6" fill="none" stroke="#cfcfcf" stroke-width="0.7"/><circle cx="582.4" cy="177.2" r="2.6" fill="none" stroke="#cfcfcf" stroke-width="0.7"/><circle cx="589.0" cy="178.1" r="2.4" fill="none" stroke="#cfcfcf" stroke-width="0.7"/><circle cx="592.7" cy="176.2" r="2.2" fill="none" stroke="#cfcfcf" stroke-width="0.7"/><circle cx="598.4" cy="177.2" r="2" fill="none" stroke="#cfcfcf" stroke-width="0.7"/><circle cx="580.5" cy="182.8" r="2.4" fill="none" stroke="#cfcfcf" stroke-width="0.7"/><circle cx="587.1" cy="183.8" r="2.6" fill="none" stroke="#cfcfcf" stroke-width="0.7"/><circle cx="600.3" cy="183.8" r="2.4" fill="none" stroke="#cfcfcf" stroke-width="0.7"/><circle cx="607.8" cy="182.8" r="1.6" fill="none" stroke="#cfcfcf" stroke-width="0.7"/><circle cx="572.0" cy="187.5" r="1.6" fill="none" stroke="#cfcfcf" stroke-width="0.7"/><circle cx="579.5" cy="185.7" r="2.2" fill="none" stroke="#cfcfcf" stroke-width="0.7"/><circle cx="603.1" cy="189.4" r="2.4" fill="none" stroke="#cfcfcf" stroke-width="0.7"/><circle cx="609.7" cy="191.3" r="1.6" fill="none" stroke="#cfcfcf" stroke-width="0.7"/><circle cx="586.1" cy="194.2" r="2.6" fill="none" stroke="#cfcfcf" stroke-width="0.7"/><circle cx="592.7" cy="193.2" r="2.4" fill="none" stroke="#cfcfcf" stroke-width="0.7"/><circle cx="598.4" cy="195.1" r="2.2" fill="none" stroke="#cfcfcf" stroke-width="0.7"/><circle cx="589.9" cy="198.9" r="2.4" fill="none" stroke="#cfcfcf" stroke-width="0.7"/><circle cx="600.3" cy="198.9" r="2.2" fill="none" stroke="#cfcfcf" stroke-width="0.7"/><circle cx="584.2" cy="203.6" r="1.6" fill="none" stroke="#cfcfcf" stroke-width="0.7"/><circle cx="604.0" cy="203.6" r="1.6" fill="none" stroke="#cfcfcf" stroke-width="0.7"/><circle cx="622.0" cy="158.0" r="2.2" fill="none" stroke="#cfcfcf" stroke-width="0.7"/><circle cx="628.0" cy="154.0" r="2" fill="none" stroke="#cfcfcf" stroke-width="0.7"/><circle cx="646.0" cy="170.0" r="2.2" fill="none" stroke="#cfcfcf" stroke-width="0.7"/><circle cx="650.0" cy="176.0" r="2.4" fill="none" stroke="#cfcfcf" stroke-width="0.7"/><circle cx="646.0" cy="183.0" r="2.2" fill="none" stroke="#cfcfcf" stroke-width="0.7"/><circle cx="651.0" cy="192.0" r="2" fill="none" stroke="#cfcfcf" stroke-width="0.7"/><circle cx="643.0" cy="196.0" r="2.4" fill="none" stroke="#cfcfcf" stroke-width="0.7"/><circle cx="656.0" cy="186.0" r="1.6" fill="none" stroke="#cfcfcf" stroke-width="0.7"/><circle cx="627.0" cy="186.0" r="2.4" fill="none" stroke="#cfcfcf" stroke-width="0.7"/><circle cx="631.0" cy="193.0" r="2.2" fill="none" stroke="#cfcfcf" stroke-width="0.7"/><circle cx="618.0" cy="196.0" r="2" fill="none" stroke="#cfcfcf" stroke-width="0.7"/><path d="M582 87L585 94L589 98L592 108L590 112L594 115L597 125L594 130L593 133L599 142L597 147L594 155L589 163L583 168L582 177L589 178L592 176L598 177L600 184L603 189L598 195L600 199L604 204M597 125L606 125M575 138L580 137L579 141L578 146L577 151L571 147M567 152L561 156M577 151L585 158L583 163L575 162L574 167L567 170M589 163L595 169M580 183L587 184L586 194L590 199L584 204M587 184L580 186L572 188M599 142L606 142" fill="none" stroke="#e0e0e0" stroke-width="0.6"/><path d="M628.9 98.3L626.9 89.6" stroke="#c8c8c8" stroke-width="1.0" stroke-linecap="round"/><circle cx="626.9" cy="89.6" r="1.4" fill="#f2f2f2" stroke="#c4c4c4" stroke-width="0.7"/><path d="M637.6 100.3L642.6 94.2" stroke="#c8c8c8" stroke-width="1.0" stroke-linecap="round"/><circle cx="642.6" cy="94.2" r="1.4" fill="#f2f2f2" stroke="#c4c4c4" stroke-width="0.7"/><path d="M641.1 111.0L649.2 112.5" stroke="#c8c8c8" stroke-width="1.0" stroke-linecap="round"/><circle cx="649.2" cy="112.5" r="1.4" fill="#f2f2f2" stroke="#c4c4c4" stroke-width="0.7"/><path d="M626.9 116.5L625.4 123.7" stroke="#c8c8c8" stroke-width="1.0" stroke-linecap="round"/><circle cx="625.4" cy="123.7" r="1.4" fill="#f2f2f2" stroke="#c4c4c4" stroke-width="0.7"/><path d="M624.4 104.9L617.8 104.4" stroke="#c8c8c8" stroke-width="1.0" stroke-linecap="round"/><circle cx="617.8" cy="104.4" r="1.4" fill="#f2f2f2" stroke="#c4c4c4" stroke-width="0.7"/><path d="M628.9 98.3 L637.6 100.3 L641.1 111.0 L636.0 119.1 L626.9 116.5 L624.4 104.9 Z" fill="none" stroke="#9c9c9c" stroke-width="2.0" stroke-linejoin="round"/><path d="M636.0 119.1L639.6 131.8" stroke="#9c9c9c" stroke-width="1.8" stroke-linecap="round"/><path d="M639.6 131.8L648.2 129.7" stroke="#c8c8c8" stroke-width="1.0" stroke-linecap="round"/><circle cx="648.2" cy="129.7" r="1.4" fill="#f2f2f2" stroke="#c4c4c4" stroke-width="0.7"/><path d="M639.6 131.8L637.1 136.9" stroke="#9c9c9c" stroke-width="1.8" stroke-linecap="round"/><path d="M637.1 136.9L623.4 139.9" stroke="#9c9c9c" stroke-width="1.8" stroke-linecap="round"/><path d="M637.1 136.9L641.6 147.2" stroke="#8c8c8c" stroke-width="1.6" stroke-linecap="round"/><path d="M641.6 147.2L649.2 146.6" stroke="#c8c8c8" stroke-width="1.0" stroke-linecap="round"/><circle cx="649.2" cy="146.6" r="1.4" fill="#f2f2f2" stroke="#c4c4c4" stroke-width="0.7"/><path d="M641.6 147.2L636.9 151.2" stroke="#c8c8c8" stroke-width="1.0" stroke-linecap="round"/><circle cx="636.9" cy="151.2" r="1.4" fill="#f2f2f2" stroke="#c4c4c4" stroke-width="0.7"/><circle cx="617.8" cy="137.9" r="2.7" fill="url(#gred)"/><circle cx="620.2" cy="143.5" r="2.7" fill="url(#gred)"/><circle cx="641.6" cy="147.4" r="3.2" fill="url(#gblue)"/><text x="642.8" y="144.2" font-size="7.4" font-weight="bold" fill="#6cae46">N1</text><path d="M632.8 180.4L633.3 175.3" stroke="#c8c8c8" stroke-width="1.0" stroke-linecap="round"/><circle cx="633.3" cy="175.3" r="1.4" fill="#f2f2f2" stroke="#c4c4c4" stroke-width="0.7"/><path d="M637.9 190.1L645.1 190.1" stroke="#c8c8c8" stroke-width="1.0" stroke-linecap="round"/><circle cx="645.1" cy="190.1" r="1.4" fill="#f2f2f2" stroke="#c4c4c4" stroke-width="0.7"/><path d="M634.9 199.3L638.9 205.9" stroke="#c8c8c8" stroke-width="1.0" stroke-linecap="round"/><circle cx="638.9" cy="205.9" r="1.4" fill="#f2f2f2" stroke="#c4c4c4" stroke-width="0.7"/><path d="M625.7 199.3L622.6 206.9" stroke="#c8c8c8" stroke-width="1.0" stroke-linecap="round"/><circle cx="622.6" cy="206.9" r="1.4" fill="#f2f2f2" stroke="#c4c4c4" stroke-width="0.7"/><path d="M620.5 190.1L613.4 190.1" stroke="#c8c8c8" stroke-width="1.0" stroke-linecap="round"/><circle cx="613.4" cy="190.1" r="1.4" fill="#f2f2f2" stroke="#c4c4c4" stroke-width="0.7"/><path d="M623.6 180.4 L632.8 180.4 L637.9 190.1 L634.9 199.3 L625.7 199.3 L620.5 190.1 Z" fill="none" stroke="#9c9c9c" stroke-width="2.0" stroke-linejoin="round"/><path d="M610.8 155.3L616.5 167.6" stroke="#9c9c9c" stroke-width="1.8" stroke-linecap="round"/><path d="M616.5 167.6L623.6 180.4" stroke="#9c9c9c" stroke-width="1.8" stroke-linecap="round"/><path d="M616.5 167.6L608.3 170.7" stroke="#c8c8c8" stroke-width="1.0" stroke-linecap="round"/><circle cx="608.3" cy="170.7" r="1.4" fill="#f2f2f2" stroke="#c4c4c4" stroke-width="0.7"/><path d="M616.5 167.6L625.7 164.0" stroke="#9c9c9c" stroke-width="1.8" stroke-linecap="round"/><path d="M610.8 155.3L604.7 155.8" stroke="#c8c8c8" stroke-width="1.0" stroke-linecap="round"/><circle cx="604.7" cy="155.8" r="1.4" fill="#f2f2f2" stroke="#c4c4c4" stroke-width="0.7"/><path d="M610.8 155.3L614.4 149.7" stroke="#c8c8c8" stroke-width="1.0" stroke-linecap="round"/><circle cx="614.4" cy="149.7" r="1.4" fill="#f2f2f2" stroke="#c4c4c4" stroke-width="0.7"/><circle cx="633.8" cy="158.4" r="3.0" fill="url(#gred)"/><circle cx="630.8" cy="165.3" r="3.0" fill="url(#gred)"/><circle cx="610.8" cy="155.3" r="3.2" fill="url(#gblue)"/><text x="638.2" y="163.2" font-size="7.4" font-weight="bold" fill="#6cae46">O1</text><text x="623.4" y="176.0" font-size="7.4" font-weight="bold" fill="#6cae46">O2</text></g>
<defs><clipPath id="cA"><rect x="33.3" y="4.5" width="288.2" height="289.9"/></clipPath>
<clipPath id="cB"><rect x="391.7" y="4.5" width="288.2" height="289.8"/></clipPath>
<clipPath id="cC"><rect x="33.3" y="359.5" width="288.2" height="289.9"/></clipPath>
<clipPath id="cD"><rect x="391.7" y="359.5" width="288.2" height="289.9"/></clipPath></defs>
<g clip-path="url(#cA)">
<path d="M33.30 292.40 C36.92 292.38 49.88 292.38 55.00 292.30 C60.12 292.22 61.70 292.08 64.00 291.90 C66.30 291.72 67.03 291.58 68.80 291.20 C70.57 290.82 72.42 290.80 74.60 289.60 C76.78 288.40 79.72 286.63 81.90 284.00 C84.08 281.37 86.00 277.68 87.70 273.80 C89.40 269.92 90.75 265.80 92.10 260.70 C93.45 255.60 94.82 249.28 95.80 243.20 C96.78 237.12 97.37 230.57 98.00 224.20 C98.63 217.83 99.07 211.90 99.60 205.00 C100.13 198.10 100.53 193.15 101.20 182.80 C101.87 172.45 102.97 156.70 103.60 142.90 C104.23 129.10 104.63 109.78 105.00 100.00 C105.37 90.22 105.48 90.70 105.80 84.20 C106.12 77.70 106.60 66.03 106.90 61.00 C107.20 55.97 107.28 58.00 107.60 54.00 C107.92 50.00 108.80 37.00 108.80 37.00 C108.80 37.00 111.10 31.00 111.10 31.00 C111.10 31.00 111.95 33.37 112.30 35.70 C112.65 38.03 112.92 41.78 113.20 45.00 C113.48 48.22 113.75 51.38 114.00 55.00 C114.25 58.62 114.32 60.87 114.70 66.70 C115.08 72.53 115.65 81.45 116.30 90.00 C116.95 98.55 117.98 111.58 118.60 118.00 C119.22 124.42 120.00 128.50 120.00 128.50 C120.00 128.50 121.17 125.42 122.00 119.00 C122.83 112.58 124.10 98.72 125.00 90.00 C125.90 81.28 126.87 72.70 127.40 66.70 C127.93 60.70 127.85 57.52 128.20 54.00 C128.55 50.48 129.50 45.60 129.50 45.60 C129.50 45.60 131.80 42.70 131.80 42.70 C131.80 42.70 132.90 44.32 133.30 46.20 C133.70 48.08 133.73 50.20 134.20 54.00 C134.67 57.80 135.48 63.00 136.10 69.00 C136.72 75.00 137.20 80.33 137.90 90.00 C138.60 99.67 139.50 116.85 140.30 127.00 C141.10 137.15 141.90 143.73 142.70 150.90 C143.50 158.07 144.17 163.88 145.10 170.00 C146.03 176.12 147.10 181.77 148.30 187.60 C149.50 193.43 151.25 200.78 152.30 205.00 C153.35 209.22 153.20 208.80 154.60 212.90 C156.00 217.00 158.42 224.27 160.70 229.60 C162.98 234.93 165.77 240.32 168.30 244.90 C170.83 249.48 173.37 253.42 175.90 257.10 C178.43 260.78 180.95 264.80 183.50 267.00 C186.05 269.20 188.15 269.92 191.20 270.30 C194.25 270.68 198.00 269.85 201.80 269.30 C205.60 268.75 210.43 268.15 214.00 267.00 C217.57 265.85 220.15 264.57 223.20 262.40 C226.25 260.23 229.50 257.03 232.30 254.00 C235.10 250.97 237.80 247.45 240.00 244.20 C242.20 240.95 243.92 237.12 245.50 234.50 C247.08 231.88 248.23 229.88 249.50 228.50 C250.77 227.12 251.70 225.88 253.10 226.20 C254.50 226.52 256.28 228.10 257.90 230.40 C259.52 232.70 261.18 237.02 262.80 240.00 C264.42 242.98 265.42 245.88 267.60 248.30 C269.78 250.72 273.60 252.88 275.90 254.50 C278.20 256.12 279.33 257.15 281.40 258.00 C283.47 258.85 286.00 259.27 288.30 259.60 C290.60 259.93 292.90 260.17 295.20 260.00 C297.50 259.83 299.80 259.17 302.10 258.60 C304.40 258.03 306.70 257.28 309.00 256.60 C311.30 255.92 313.82 255.23 315.90 254.50 C317.98 253.77 320.57 252.58 321.50 252.20" fill="none" stroke="#9400d3" stroke-width="1.9" stroke-linejoin="round" stroke-linecap="round"/>
<path d="M33.30 292.40 C38.58 292.38 58.05 292.40 65.00 292.30 C71.95 292.20 72.18 292.12 75.00 291.80 C77.82 291.48 79.53 291.20 81.90 290.40 C84.27 289.60 87.02 288.78 89.20 287.00 C91.38 285.22 93.30 282.87 95.00 279.70 C96.70 276.53 98.18 272.87 99.40 268.00 C100.62 263.13 101.57 256.58 102.30 250.50 C103.03 244.42 103.35 238.25 103.80 231.50 C104.25 224.75 104.60 216.58 105.00 210.00 C105.40 203.42 105.63 198.67 106.20 192.00 C106.77 185.33 107.57 175.38 108.40 170.00 C109.23 164.62 110.27 160.22 111.20 159.70 C112.13 159.18 113.00 162.77 114.00 166.90 C115.00 171.03 116.13 179.18 117.20 184.50 C118.27 189.82 119.27 198.05 120.40 198.80 C121.53 199.55 122.82 193.52 124.00 189.00 C125.18 184.48 126.38 175.07 127.50 171.70 C128.62 168.33 129.50 166.93 130.70 168.80 C131.90 170.67 133.68 178.53 134.70 182.90 C135.72 187.27 136.20 191.32 136.80 195.00 C137.40 198.68 137.47 200.13 138.30 205.00 C139.13 209.87 140.50 218.08 141.80 224.20 C143.10 230.32 144.70 237.32 146.10 241.70 C147.50 246.08 148.52 248.03 150.20 250.50 C151.88 252.97 153.70 254.13 156.20 256.50 C158.70 258.87 161.92 261.93 165.20 264.70 C168.48 267.47 172.08 270.82 175.90 273.10 C179.72 275.38 183.78 277.08 188.10 278.40 C192.42 279.72 197.48 280.87 201.80 281.00 C206.12 281.13 209.93 280.52 214.00 279.20 C218.07 277.88 222.13 275.27 226.20 273.10 C230.27 270.93 235.18 267.80 238.40 266.20 C241.62 264.60 243.17 264.48 245.50 263.50 C247.83 262.52 250.33 260.30 252.40 260.30 C254.47 260.30 255.83 261.82 257.90 263.50 C259.97 265.18 262.50 268.98 264.80 270.40 C267.10 271.82 268.93 271.55 271.70 272.00 C274.47 272.45 278.40 272.73 281.40 273.10 C284.40 273.47 286.72 273.90 289.70 274.20 C292.68 274.50 296.08 274.90 299.30 274.90 C302.52 274.90 305.30 274.62 309.00 274.20 C312.70 273.78 319.42 272.70 321.50 272.40" fill="none" stroke="#009e73" stroke-width="1.9" stroke-linejoin="round" stroke-linecap="round"/>
<path d="M33.30 292.40 C39.42 292.38 62.22 292.45 70.00 292.30 C77.78 292.15 76.80 292.15 80.00 291.50 C83.20 290.85 86.45 289.57 89.20 288.40 C91.95 287.23 94.70 286.57 96.50 284.50 C98.30 282.43 99.03 279.08 100.00 276.00 C100.97 272.92 101.55 270.67 102.30 266.00 C103.05 261.33 103.77 253.50 104.50 248.00 C105.23 242.50 106.00 236.92 106.70 233.00 C107.40 229.08 107.97 226.45 108.70 224.50 C109.43 222.55 110.22 221.30 111.10 221.30 C111.98 221.30 113.10 222.97 114.00 224.50 C114.90 226.03 115.65 229.05 116.50 230.50 C117.35 231.95 118.18 233.45 119.10 233.20 C120.02 232.95 121.02 231.20 122.00 229.00 C122.98 226.80 124.00 223.00 125.00 220.00 C126.00 217.00 126.92 213.10 128.00 211.00 C129.08 208.90 130.33 207.23 131.50 207.40 C132.67 207.57 133.78 209.20 135.00 212.00 C136.22 214.80 137.18 217.78 138.80 224.20 C140.42 230.62 142.80 244.12 144.70 250.50 C146.60 256.88 148.30 259.12 150.20 262.50 C152.10 265.88 153.60 268.40 156.10 270.80 C158.60 273.20 161.13 275.25 165.20 276.90 C169.27 278.55 175.42 279.82 180.50 280.70 C185.58 281.58 190.62 282.07 195.70 282.20 C200.78 282.33 205.92 282.25 211.00 281.50 C216.08 280.75 221.37 278.87 226.20 277.70 C231.03 276.53 236.78 275.35 240.00 274.50 C243.22 273.65 243.55 273.17 245.50 272.60 C247.45 272.03 249.95 271.12 251.70 271.10 C253.45 271.08 254.50 271.82 256.00 272.50 C257.50 273.18 258.77 274.22 260.70 275.20 C262.63 276.18 264.15 277.78 267.60 278.40 C271.05 279.02 276.80 278.85 281.40 278.90 C286.00 278.95 290.60 278.82 295.20 278.70 C299.80 278.58 304.62 278.43 309.00 278.20 C313.38 277.97 319.42 277.45 321.50 277.30" fill="none" stroke="#56b4e9" stroke-width="1.9" stroke-linejoin="round" stroke-linecap="round"/>
<path d="M33.30 292.40 C39.42 292.38 62.22 292.43 70.00 292.30 C77.78 292.17 76.80 292.22 80.00 291.60 C83.20 290.98 86.53 289.87 89.20 288.60 C91.87 287.33 94.20 286.77 96.00 284.00 C97.80 281.23 98.70 277.10 100.00 272.00 C101.30 266.90 102.63 258.40 103.80 253.40 C104.97 248.40 105.78 244.92 107.00 242.00 C108.22 239.08 109.68 235.73 111.10 235.90 C112.52 236.07 114.03 240.82 115.50 243.00 C116.97 245.18 118.32 249.17 119.90 249.00 C121.48 248.83 123.07 244.07 125.00 242.00 C126.93 239.93 129.67 236.60 131.50 236.60 C133.33 236.60 134.53 239.68 136.00 242.00 C137.47 244.32 138.37 246.65 140.30 250.50 C142.23 254.35 145.95 262.05 147.60 265.10 C149.25 268.15 148.78 267.08 150.20 268.80 C151.62 270.52 153.60 273.55 156.10 275.40 C158.60 277.25 161.13 278.63 165.20 279.90 C169.27 281.17 175.42 282.35 180.50 283.00 C185.58 283.65 190.62 283.85 195.70 283.80 C200.78 283.75 205.92 283.22 211.00 282.70 C216.08 282.18 221.37 281.45 226.20 280.70 C231.03 279.95 236.70 278.90 240.00 278.20 C243.30 277.50 244.05 276.93 246.00 276.50 C247.95 276.07 250.03 275.60 251.70 275.60 C253.37 275.60 254.50 276.10 256.00 276.50 C257.50 276.90 258.30 277.30 260.70 278.00 C263.10 278.70 266.95 280.13 270.40 280.70 C273.85 281.27 277.27 281.33 281.40 281.40 C285.53 281.47 290.60 281.28 295.20 281.10 C299.80 280.92 304.62 280.60 309.00 280.30 C313.38 280.00 319.42 279.47 321.50 279.30" fill="none" stroke="#e69f00" stroke-width="1.9" stroke-linejoin="round" stroke-linecap="round"/>
<path d="M33.30 292.40 C39.42 292.38 62.22 292.42 70.00 292.30 C77.78 292.18 76.80 292.25 80.00 291.70 C83.20 291.15 86.53 290.12 89.20 289.00 C91.87 287.88 94.20 287.33 96.00 285.00 C97.80 282.67 98.70 279.05 100.00 275.00 C101.30 270.95 102.55 264.12 103.80 260.70 C105.05 257.28 106.28 255.83 107.50 254.50 C108.72 253.17 109.77 252.53 111.10 252.70 C112.43 252.87 113.92 254.65 115.50 255.50 C117.08 256.35 118.85 257.88 120.60 257.80 C122.35 257.72 124.18 255.85 126.00 255.00 C127.82 254.15 129.83 252.62 131.50 252.70 C133.17 252.78 134.28 253.92 136.00 255.50 C137.72 257.08 139.42 259.15 141.80 262.20 C144.18 265.25 147.92 270.77 150.30 273.80 C152.68 276.83 153.62 278.82 156.10 280.40 C158.58 281.98 161.13 282.67 165.20 283.30 C169.27 283.93 175.42 284.00 180.50 284.20 C185.58 284.40 190.62 284.57 195.70 284.50 C200.78 284.43 205.92 284.30 211.00 283.80 C216.08 283.30 221.37 282.13 226.20 281.50 C231.03 280.87 235.87 280.43 240.00 280.00 C244.13 279.57 247.55 278.90 251.00 278.90 C254.45 278.90 256.78 279.53 260.70 280.00 C264.62 280.47 269.90 281.35 274.50 281.70 C279.10 282.05 283.70 282.15 288.30 282.10 C292.90 282.05 296.57 281.75 302.10 281.40 C307.63 281.05 318.27 280.23 321.50 280.00" fill="none" stroke="#f0e442" stroke-width="1.9" stroke-linejoin="round" stroke-linecap="round"/>
</g>
<g clip-path="url(#cB)">
<path d="M391.70 292.10 C395.58 292.08 409.78 292.03 415.00 292.00 C420.22 291.97 421.12 291.97 423.00 291.90 C424.88 291.83 425.23 291.88 426.30 291.60 C427.37 291.32 428.47 291.43 429.40 290.20 C430.33 288.97 431.05 287.08 431.90 284.20 C432.75 281.32 433.82 276.82 434.50 272.90 C435.18 268.98 435.55 265.30 436.00 260.70 C436.45 256.10 436.78 250.42 437.20 245.30 C437.62 240.18 438.10 235.72 438.50 230.00 C438.90 224.28 439.10 219.33 439.60 211.00 C440.10 202.67 440.88 191.00 441.50 180.00 C442.12 169.00 442.72 156.33 443.30 145.00 C443.88 133.67 444.50 120.33 445.00 112.00 C445.50 103.67 445.92 100.53 446.30 95.00 C446.68 89.47 447.08 82.47 447.30 78.80 C447.52 75.13 447.45 74.93 447.60 73.00 C447.75 71.07 448.00 70.10 448.20 67.20 C448.40 64.30 448.57 58.35 448.80 55.60 C449.03 52.85 449.60 50.70 449.60 50.70 C449.60 50.70 451.97 53.72 452.80 55.60 C453.63 57.48 454.08 59.58 454.60 62.00 C455.12 64.42 455.38 66.43 455.90 70.10 C456.42 73.77 457.15 79.28 457.70 84.00 C458.25 88.72 458.62 93.73 459.20 98.40 C459.78 103.07 460.68 107.63 461.20 112.00 C461.72 116.37 461.38 118.37 462.30 124.60 C463.22 130.83 465.12 142.10 466.70 149.40 C468.28 156.70 470.10 163.28 471.80 168.40 C473.50 173.52 475.32 177.67 476.90 180.10 C478.48 182.53 479.58 182.40 481.30 183.00 C483.02 183.60 485.42 183.28 487.20 183.70 C488.98 184.12 490.45 184.40 492.00 185.50 C493.55 186.60 494.98 187.82 496.50 190.30 C498.02 192.78 499.65 197.03 501.10 200.40 C502.55 203.77 504.02 207.12 505.20 210.50 C506.38 213.88 507.20 217.32 508.20 220.70 C509.20 224.08 510.10 227.42 511.20 230.80 C512.30 234.18 513.60 237.63 514.80 241.00 C516.00 244.37 517.22 247.87 518.40 251.00 C519.58 254.13 520.87 257.38 521.90 259.80 C522.93 262.22 523.33 263.63 524.60 265.50 C525.87 267.37 527.38 268.67 529.50 271.00 C531.62 273.33 534.72 277.33 537.30 279.50 C539.88 281.67 542.05 282.82 545.00 284.00 C547.95 285.18 550.15 286.13 555.00 286.60 C559.85 287.07 568.72 287.00 574.10 286.80 C579.48 286.60 583.35 286.07 587.30 285.40 C591.25 284.73 594.33 283.80 597.80 282.80 C601.27 281.80 604.18 280.62 608.10 279.40 C612.02 278.18 616.92 277.13 621.30 275.50 C625.68 273.87 630.90 271.03 634.40 269.60 C637.90 268.17 640.10 267.38 642.30 266.90 C644.50 266.42 645.85 266.48 647.60 266.70 C649.35 266.92 651.05 267.07 652.80 268.20 C654.55 269.33 656.35 271.63 658.10 273.50 C659.85 275.37 661.55 277.53 663.30 279.40 C665.05 281.27 666.85 283.33 668.60 284.70 C670.35 286.07 671.92 286.90 673.80 287.60 C675.68 288.30 678.88 288.68 679.90 288.90" fill="none" stroke="#a64fdc" stroke-width="1.1" stroke-linejoin="round" stroke-linecap="butt" stroke-dasharray="2.3 3.6"/>
<path d="M391.70 292.10 C395.58 292.08 409.78 292.03 415.00 292.00 C420.22 291.97 421.12 291.97 423.00 291.90 C424.88 291.83 425.23 291.88 426.30 291.60 C427.37 291.32 428.47 291.43 429.40 290.20 C430.33 288.97 431.05 287.08 431.90 284.20 C432.75 281.32 433.82 276.82 434.50 272.90 C435.18 268.98 435.55 265.30 436.00 260.70 C436.45 256.10 436.78 250.42 437.20 245.30 C437.62 240.18 438.10 235.72 438.50 230.00 C438.90 224.28 439.13 218.50 439.60 211.00 C440.07 203.50 440.67 194.53 441.30 185.00 C441.93 175.47 442.73 164.63 443.40 153.80 C444.07 142.97 444.82 129.23 445.30 120.00 C445.78 110.77 446.02 104.40 446.30 98.40 C446.58 92.40 446.73 88.23 447.00 84.00 C447.27 79.77 447.55 76.77 447.90 73.00 C448.25 69.23 449.10 61.40 449.10 61.40 C449.10 61.40 454.30 60.30 454.30 60.30 C454.30 60.30 455.17 66.15 455.70 70.10 C456.23 74.05 456.93 79.28 457.50 84.00 C458.07 88.72 458.43 93.23 459.10 98.40 C459.77 103.57 460.72 109.42 461.50 115.00 C462.28 120.58 462.68 125.43 463.80 131.90 C464.92 138.37 466.62 147.47 468.20 153.80 C469.78 160.13 471.60 166.00 473.30 169.90 C475.00 173.80 476.70 175.38 478.40 177.20 C480.10 179.02 481.80 180.08 483.50 180.80 C485.20 181.52 487.02 180.88 488.60 181.50 C490.18 182.12 491.68 183.08 493.00 184.50 C494.32 185.92 495.15 187.38 496.50 190.00 C497.85 192.62 499.65 196.82 501.10 200.20 C502.55 203.58 504.02 206.92 505.20 210.30 C506.38 213.68 507.20 217.12 508.20 220.50 C509.20 223.88 510.10 227.22 511.20 230.60 C512.30 233.98 513.60 237.42 514.80 240.80 C516.00 244.18 517.22 247.70 518.40 250.90 C519.58 254.10 520.87 257.45 521.90 260.00 C522.93 262.55 523.33 263.72 524.60 266.20 C525.87 268.68 527.60 272.35 529.50 274.90 C531.40 277.45 533.60 279.63 536.00 281.50 C538.40 283.37 540.83 284.97 543.90 286.10 C546.97 287.23 550.45 287.87 554.40 288.30 C558.35 288.73 563.22 288.85 567.60 288.70 C571.98 288.55 576.23 287.95 580.70 287.40 C585.17 286.85 589.83 286.30 594.40 285.40 C598.97 284.50 603.62 283.43 608.10 282.00 C612.58 280.57 617.35 278.55 621.30 276.80 C625.25 275.05 628.73 273.25 631.80 271.50 C634.87 269.75 637.18 267.78 639.70 266.30 C642.22 264.82 644.72 262.93 646.90 262.60 C649.08 262.27 650.93 263.03 652.80 264.30 C654.67 265.57 656.35 267.90 658.10 270.20 C659.85 272.50 661.55 275.68 663.30 278.10 C665.05 280.52 666.85 283.12 668.60 284.70 C670.35 286.28 671.92 286.90 673.80 287.60 C675.68 288.30 678.88 288.68 679.90 288.90" fill="none" stroke="#9400d3" stroke-width="1.3" stroke-linejoin="round" stroke-linecap="round"/>
<path d="M391.70 292.10 C396.42 292.08 413.82 292.08 420.00 292.00 C426.18 291.92 426.65 292.40 428.80 291.60 C430.95 290.80 431.70 289.47 432.90 287.20 C434.10 284.93 435.07 281.57 436.00 278.00 C436.93 274.43 437.80 270.13 438.50 265.80 C439.20 261.47 439.73 256.30 440.20 252.00 C440.67 247.70 440.92 244.00 441.30 240.00 C441.68 236.00 442.27 231.65 442.50 228.00 C442.73 224.35 442.38 221.77 442.70 218.10 C443.02 214.43 443.83 209.87 444.40 206.00 C444.97 202.13 445.53 198.57 446.10 194.90 C446.67 191.23 447.22 187.58 447.80 184.00 C448.38 180.42 449.60 173.40 449.60 173.40 C449.60 173.40 454.90 176.90 454.90 176.90 C454.90 176.90 456.58 184.17 457.80 189.10 C459.02 194.03 460.80 201.02 462.20 206.50 C463.60 211.98 464.52 217.52 466.20 222.00 C467.88 226.48 470.27 230.73 472.30 233.40 C474.33 236.07 476.12 237.15 478.40 238.00 C480.68 238.85 483.72 238.23 486.00 238.50 C488.28 238.77 490.60 239.13 492.10 239.60 C493.60 240.07 493.67 240.43 495.00 241.30 C496.33 242.17 498.40 243.20 500.10 244.80 C501.80 246.40 503.60 248.43 505.20 250.90 C506.80 253.37 507.82 256.37 509.70 259.60 C511.58 262.83 514.35 267.28 516.50 270.30 C518.65 273.32 520.67 275.72 522.60 277.70 C524.53 279.68 525.65 280.68 528.10 282.20 C530.55 283.72 534.02 285.65 537.30 286.80 C540.58 287.95 542.75 288.63 547.80 289.10 C552.85 289.57 561.02 289.63 567.60 289.60 C574.18 289.57 580.55 289.28 587.30 288.90 C594.05 288.52 602.43 288.00 608.10 287.30 C613.77 286.60 616.92 285.68 621.30 284.70 C625.68 283.72 630.25 282.38 634.40 281.40 C638.55 280.42 643.13 279.02 646.20 278.80 C649.27 278.58 650.38 279.23 652.80 280.10 C655.22 280.97 658.07 282.68 660.70 284.00 C663.33 285.32 665.40 287.05 668.60 288.00 C671.80 288.95 678.02 289.42 679.90 289.70" fill="none" stroke="#2e8b57" stroke-width="1.3" stroke-linejoin="round" stroke-linecap="round"/>
<path d="M391.70 292.10 C396.75 292.08 415.47 292.13 422.00 292.00 C428.53 291.87 428.73 292.27 430.90 291.30 C433.07 290.33 433.82 288.75 435.00 286.20 C436.18 283.65 436.98 280.25 438.00 276.00 C439.02 271.75 440.17 265.82 441.10 260.70 C442.03 255.58 442.90 249.42 443.60 245.30 C444.30 241.18 444.77 238.88 445.30 236.00 C445.83 233.12 446.27 230.33 446.80 228.00 C447.33 225.67 447.93 223.65 448.50 222.00 C449.07 220.35 450.20 218.10 450.20 218.10 C450.20 218.10 454.30 220.50 454.30 220.50 C454.30 220.50 455.77 223.88 456.50 225.50 C457.23 227.12 457.35 227.22 458.70 230.20 C460.05 233.18 462.60 239.43 464.60 243.40 C466.60 247.37 468.40 251.47 470.70 254.00 C473.00 256.53 475.35 257.83 478.40 258.60 C481.45 259.37 485.97 258.10 489.00 258.60 C492.03 259.10 493.80 259.82 496.60 261.60 C499.40 263.38 502.48 266.37 505.80 269.30 C509.12 272.23 513.30 276.75 516.50 279.20 C519.70 281.65 521.97 282.52 525.00 284.00 C528.03 285.48 529.80 287.10 534.70 288.10 C539.60 289.10 546.73 289.75 554.40 290.00 C562.07 290.25 573.93 289.67 580.70 289.60 C587.47 289.53 588.23 289.98 595.00 289.60 C601.77 289.22 614.73 288.02 621.30 287.30 C627.87 286.58 630.25 285.85 634.40 285.30 C638.55 284.75 642.92 284.00 646.20 284.00 C649.48 284.00 651.03 284.53 654.10 285.30 C657.17 286.07 660.30 287.78 664.60 288.60 C668.90 289.42 677.35 289.93 679.90 290.20" fill="none" stroke="#87ceeb" stroke-width="1.3" stroke-linejoin="round" stroke-linecap="round"/>
<path d="M391.70 292.10 C396.75 292.08 415.30 292.13 422.00 292.00 C428.70 291.87 429.57 292.10 431.90 291.30 C434.23 290.50 434.63 289.92 436.00 287.20 C437.37 284.48 438.73 279.60 440.10 275.00 C441.47 270.40 443.02 264.55 444.20 259.60 C445.38 254.65 446.28 248.98 447.20 245.30 C448.12 241.62 449.70 237.50 449.70 237.50 C449.70 237.50 453.60 238.10 453.60 238.10 C453.60 238.10 454.92 239.87 456.00 241.50 C457.08 243.13 458.40 245.05 460.10 247.90 C461.80 250.75 463.92 255.67 466.20 258.60 C468.48 261.53 471.02 263.98 473.80 265.50 C476.58 267.02 479.85 267.20 482.90 267.70 C485.95 268.20 489.05 267.85 492.10 268.50 C495.15 269.15 498.55 270.35 501.20 271.60 C503.85 272.85 505.70 274.47 508.00 276.00 C510.30 277.53 512.52 279.27 515.00 280.80 C517.48 282.33 519.62 283.80 522.90 285.20 C526.18 286.60 529.45 288.32 534.70 289.20 C539.95 290.08 546.73 290.33 554.40 290.50 C562.07 290.67 573.93 290.27 580.70 290.20 C587.47 290.13 588.23 290.47 595.00 290.10 C601.77 289.73 612.77 288.73 621.30 288.00 C629.83 287.27 640.52 285.93 646.20 285.70 C651.88 285.47 651.67 285.93 655.40 286.60 C659.13 287.27 664.52 289.03 668.60 289.70 C672.68 290.37 678.02 290.45 679.90 290.60" fill="none" stroke="#f4a460" stroke-width="1.3" stroke-linejoin="round" stroke-linecap="round"/>
<path d="M391.70 292.10 C396.75 292.08 415.30 292.07 422.00 292.00 C428.70 291.93 429.40 292.33 431.90 291.70 C434.40 291.07 435.47 290.32 437.00 288.20 C438.53 286.08 439.73 282.57 441.10 279.00 C442.47 275.43 443.83 271.13 445.20 266.80 C446.57 262.47 448.25 255.50 449.30 253.00 C450.35 250.50 450.72 251.88 451.50 251.80 C452.28 251.72 453.18 251.88 454.00 252.50 C454.82 253.12 455.38 254.17 456.40 255.50 C457.42 256.83 458.22 257.95 460.10 260.50 C461.98 263.05 465.17 268.58 467.70 270.80 C470.23 273.02 472.25 273.25 475.30 273.80 C478.35 274.35 482.70 273.83 486.00 274.10 C489.30 274.37 491.80 274.43 495.10 275.40 C498.40 276.37 502.23 278.50 505.80 279.90 C509.37 281.30 513.30 282.78 516.50 283.80 C519.70 284.82 521.97 285.03 525.00 286.00 C528.03 286.97 529.80 288.78 534.70 289.60 C539.60 290.42 546.73 290.73 554.40 290.90 C562.07 291.07 573.93 290.62 580.70 290.60 C587.47 290.58 588.23 291.08 595.00 290.80 C601.77 290.52 612.77 289.53 621.30 288.90 C629.83 288.27 640.52 287.15 646.20 287.00 C651.88 286.85 649.78 287.33 655.40 288.00 C661.02 288.67 675.82 290.50 679.90 291.00" fill="none" stroke="#ffd700" stroke-width="1.3" stroke-linejoin="round" stroke-linecap="round"/>
</g>
<g clip-path="url(#cC)">
<path d="M33.30 647.40 C39.42 647.37 62.22 647.37 70.00 647.20 C77.78 647.03 77.25 646.67 80.00 646.40 C82.75 646.13 84.50 645.97 86.50 645.60 C88.50 645.23 90.32 644.98 92.00 644.20 C93.68 643.42 95.10 642.27 96.60 640.90 C98.10 639.53 99.82 637.90 101.00 636.00 C102.18 634.10 102.80 632.03 103.70 629.50 C104.60 626.97 105.48 623.72 106.40 620.80 C107.32 617.88 108.28 614.92 109.20 612.00 C110.12 609.08 111.00 606.20 111.90 603.30 C112.80 600.40 113.70 597.50 114.60 594.60 C115.50 591.70 116.30 589.17 117.30 585.90 C118.30 582.63 119.35 579.23 120.60 575.00 C121.85 570.77 123.23 566.42 124.80 560.50 C126.37 554.58 128.38 546.00 130.00 539.50 C131.62 533.00 133.07 527.25 134.50 521.50 C135.93 515.75 137.08 510.17 138.60 505.00 C140.12 499.83 141.90 495.03 143.60 490.50 C145.30 485.97 146.83 481.85 148.80 477.80 C150.77 473.75 153.33 469.50 155.40 466.20 C157.47 462.90 159.08 460.70 161.20 458.00 C163.32 455.30 164.85 453.15 168.10 450.00 C171.35 446.85 177.80 441.53 180.70 439.10 C183.60 436.67 183.85 436.57 185.50 435.40 C187.15 434.23 188.28 433.72 190.60 432.10 C192.92 430.48 196.97 427.45 199.40 425.70 C201.83 423.95 203.27 423.07 205.20 421.60 C207.13 420.13 209.20 418.32 211.00 416.90 C212.80 415.48 214.58 414.32 216.00 413.10 C217.42 411.88 217.65 411.73 219.50 409.60 C221.35 407.47 224.83 403.37 227.10 400.30 C229.37 397.23 231.08 394.48 233.10 391.20 C235.12 387.92 237.30 384.12 239.20 380.60 C241.10 377.08 242.87 373.48 244.50 370.10 C246.13 366.72 248.15 362.23 249.00 360.30 C249.85 358.37 249.50 358.80 249.60 358.50" fill="none" stroke="#9400d3" stroke-width="1.8" stroke-linejoin="round" stroke-linecap="round"/>
<path d="M33.30 647.40 C39.42 647.37 62.22 647.37 70.00 647.20 C77.78 647.03 77.25 646.67 80.00 646.40 C82.75 646.13 84.50 645.97 86.50 645.60 C88.50 645.23 90.23 644.98 92.00 644.20 C93.77 643.42 95.52 642.27 97.10 640.90 C98.68 639.53 100.32 637.90 101.50 636.00 C102.68 634.10 103.30 632.03 104.20 629.50 C105.10 626.97 105.98 623.72 106.90 620.80 C107.82 617.88 108.78 614.92 109.70 612.00 C110.62 609.08 111.50 606.20 112.40 603.30 C113.30 600.40 114.20 597.50 115.10 594.60 C116.00 591.70 116.80 589.17 117.80 585.90 C118.80 582.63 119.85 579.23 121.10 575.00 C122.35 570.77 123.73 566.42 125.30 560.50 C126.87 554.58 128.88 546.00 130.50 539.50 C132.12 533.00 133.57 527.25 135.00 521.50 C136.43 515.75 137.58 510.17 139.10 505.00 C140.62 499.83 142.40 495.03 144.10 490.50 C145.80 485.97 147.47 481.85 149.30 477.80 C151.13 473.75 153.17 469.50 155.10 466.20 C157.03 462.90 158.78 460.70 160.90 458.00 C163.02 455.30 165.53 452.50 167.80 450.00 C170.07 447.50 172.55 444.78 174.50 443.00 C176.45 441.22 177.75 440.75 179.50 439.30 C181.25 437.85 183.15 435.98 185.00 434.30 C186.85 432.62 188.20 431.32 190.60 429.20 C193.00 427.08 196.97 423.58 199.40 421.60 C201.83 419.62 203.27 418.90 205.20 417.30 C207.13 415.70 209.20 413.72 211.00 412.00 C212.80 410.28 214.33 408.92 216.00 407.00 C217.67 405.08 219.15 403.00 221.00 400.50 C222.85 398.00 225.08 395.05 227.10 392.00 C229.12 388.95 231.08 385.73 233.10 382.20 C235.12 378.67 237.18 374.45 239.20 370.80 C241.22 367.15 244.10 362.35 245.20 360.30 C246.30 358.25 245.70 358.80 245.80 358.50" fill="none" stroke="#009e73" stroke-width="1.8" stroke-linejoin="round" stroke-linecap="round"/>
<path d="M33.30 647.40 C39.42 647.37 62.22 647.37 70.00 647.20 C77.78 647.03 77.25 646.67 80.00 646.40 C82.75 646.13 84.50 645.97 86.50 645.60 C88.50 645.23 90.18 644.98 92.00 644.20 C93.82 643.42 95.77 642.27 97.40 640.90 C99.03 639.53 100.62 637.90 101.80 636.00 C102.98 634.10 103.60 632.03 104.50 629.50 C105.40 626.97 106.28 623.72 107.20 620.80 C108.12 617.88 109.08 614.92 110.00 612.00 C110.92 609.08 111.80 606.20 112.70 603.30 C113.60 600.40 114.50 597.50 115.40 594.60 C116.30 591.70 117.10 589.17 118.10 585.90 C119.10 582.63 120.15 579.23 121.40 575.00 C122.65 570.77 124.03 566.42 125.60 560.50 C127.17 554.58 129.18 546.00 130.80 539.50 C132.42 533.00 133.87 527.25 135.30 521.50 C136.73 515.75 137.88 510.17 139.40 505.00 C140.92 499.83 142.70 495.03 144.40 490.50 C146.10 485.97 147.77 481.85 149.60 477.80 C151.43 473.75 153.47 469.50 155.40 466.20 C157.33 462.90 159.08 460.70 161.20 458.00 C163.32 455.30 165.83 452.50 168.10 450.00 C170.37 447.50 173.18 444.78 174.80 443.00 C176.42 441.22 176.35 440.93 177.80 439.30 C179.25 437.67 181.57 435.22 183.50 433.20 C185.43 431.18 187.48 429.13 189.40 427.20 C191.32 425.27 193.05 423.50 195.00 421.60 C196.95 419.70 198.82 418.03 201.10 415.80 C203.38 413.57 206.38 410.53 208.70 408.20 C211.02 405.87 212.82 404.25 215.00 401.80 C217.18 399.35 219.40 396.90 221.80 393.50 C224.20 390.10 227.27 385.18 229.40 381.40 C231.53 377.62 232.97 374.32 234.60 370.80 C236.23 367.28 238.30 362.43 239.20 360.30 C240.10 358.17 239.87 358.38 240.00 358.00" fill="none" stroke="#56b4e9" stroke-width="1.8" stroke-linejoin="round" stroke-linecap="round"/>
<path d="M33.30 647.40 C39.42 647.37 62.22 647.37 70.00 647.20 C77.78 647.03 77.25 646.67 80.00 646.40 C82.75 646.13 84.50 645.97 86.50 645.60 C88.50 645.23 90.13 644.98 92.00 644.20 C93.87 643.42 96.02 642.27 97.70 640.90 C99.38 639.53 100.92 637.90 102.10 636.00 C103.28 634.10 103.90 632.03 104.80 629.50 C105.70 626.97 106.58 623.72 107.50 620.80 C108.42 617.88 109.38 614.92 110.30 612.00 C111.22 609.08 112.10 606.20 113.00 603.30 C113.90 600.40 114.80 597.50 115.70 594.60 C116.60 591.70 117.40 589.17 118.40 585.90 C119.40 582.63 120.45 579.23 121.70 575.00 C122.95 570.77 124.33 566.42 125.90 560.50 C127.47 554.58 129.48 546.00 131.10 539.50 C132.72 533.00 134.17 527.25 135.60 521.50 C137.03 515.75 138.18 510.17 139.70 505.00 C141.22 499.83 143.00 495.03 144.70 490.50 C146.40 485.97 148.07 481.85 149.90 477.80 C151.73 473.75 153.77 469.50 155.70 466.20 C157.63 462.90 159.38 460.70 161.50 458.00 C163.62 455.30 166.13 452.50 168.40 450.00 C170.67 447.50 173.35 444.73 175.10 443.00 C176.85 441.27 177.30 441.17 178.90 439.60 C180.50 438.03 182.75 435.60 184.70 433.60 C186.65 431.60 188.63 429.55 190.60 427.60 C192.57 425.65 194.55 423.78 196.50 421.90 C198.45 420.02 200.27 418.40 202.30 416.30 C204.33 414.20 206.58 411.93 208.70 409.30 C210.82 406.67 212.93 403.38 215.00 400.50 C217.07 397.62 219.08 394.93 221.10 392.00 C223.12 389.07 225.10 386.55 227.10 382.90 C229.10 379.25 231.40 373.87 233.10 370.10 C234.80 366.33 236.48 362.32 237.30 360.30 C238.12 358.28 237.88 358.38 238.00 358.00" fill="none" stroke="#e69f00" stroke-width="1.8" stroke-linejoin="round" stroke-linecap="round"/>
<path d="M33.30 647.40 C39.42 647.37 62.22 647.40 70.00 647.20 C77.78 647.00 77.25 646.52 80.00 646.20 C82.75 645.88 84.50 645.70 86.50 645.30 C88.50 644.90 90.15 644.60 92.00 643.80 C93.85 643.00 95.87 641.87 97.60 640.50 C99.33 639.13 101.12 637.43 102.40 635.60 C103.68 633.77 104.35 631.97 105.30 629.50 C106.25 627.03 107.17 623.72 108.10 620.80 C109.03 617.88 109.98 614.92 110.90 612.00 C111.82 609.08 112.70 606.20 113.60 603.30 C114.50 600.40 115.40 597.50 116.30 594.60 C117.20 591.70 117.98 589.17 119.00 585.90 C120.02 582.63 121.08 579.23 122.40 575.00 C123.72 570.77 125.23 566.42 126.90 560.50 C128.57 554.58 130.67 546.08 132.40 539.50 C134.13 532.92 135.73 526.58 137.30 521.00 C138.87 515.42 140.30 510.75 141.80 506.00 C143.30 501.25 144.67 496.83 146.30 492.50 C147.93 488.17 149.75 483.70 151.60 480.00 C153.45 476.30 155.47 473.07 157.40 470.30 C159.33 467.53 161.07 465.90 163.20 463.40 C165.33 460.90 167.88 458.02 170.20 455.30 C172.52 452.58 174.78 449.82 177.10 447.10 C179.42 444.38 181.77 441.70 184.10 439.00 C186.43 436.30 189.12 433.27 191.10 430.90 C193.08 428.53 194.43 426.32 196.00 424.80 C197.57 423.28 198.77 423.70 200.50 421.80 C202.23 419.90 204.48 416.32 206.40 413.40 C208.32 410.48 209.82 407.75 212.00 404.30 C214.18 400.85 216.98 396.77 219.50 392.70 C222.02 388.63 225.08 383.80 227.10 379.90 C229.12 376.00 230.35 372.57 231.60 369.30 C232.85 366.03 234.00 362.18 234.60 360.30 C235.20 358.42 235.10 358.38 235.20 358.00" fill="none" stroke="#f0e442" stroke-width="1.8" stroke-linejoin="round" stroke-linecap="round"/>
</g>
<g clip-path="url(#cD)">
<path d="M391.70 647.40 C397.75 647.38 420.53 647.45 428.00 647.30 C435.47 647.15 434.43 646.90 436.50 646.50 C438.57 646.10 439.08 645.82 440.40 644.90 C441.72 643.98 443.08 642.75 444.40 641.00 C445.72 639.25 447.00 636.90 448.30 634.40 C449.60 631.90 450.90 628.82 452.20 626.00 C453.50 623.18 454.80 620.02 456.10 617.50 C457.40 614.98 458.68 612.97 460.00 610.90 C461.32 608.83 462.47 607.12 464.00 605.10 C465.53 603.08 467.25 601.00 469.20 598.80 C471.15 596.60 473.53 594.20 475.70 591.90 C477.87 589.60 480.02 587.43 482.20 585.00 C484.38 582.57 486.65 580.00 488.80 577.30 C490.95 574.60 493.20 571.28 495.10 568.80 C497.00 566.32 498.50 564.43 500.20 562.40 C501.90 560.37 503.60 558.37 505.30 556.60 C507.00 554.83 508.70 553.22 510.40 551.80 C512.10 550.38 513.78 549.22 515.50 548.10 C517.22 546.98 518.98 546.02 520.70 545.10 C522.42 544.18 524.10 543.35 525.80 542.60 C527.50 541.85 528.35 541.28 530.90 540.60 C533.45 539.92 537.08 539.03 541.10 538.50 C545.12 537.97 550.98 537.77 555.00 537.40 C559.02 537.03 561.80 536.68 565.20 536.30 C568.60 535.92 571.98 535.55 575.40 535.10 C578.82 534.65 582.28 534.22 585.70 533.60 C589.12 532.98 592.87 532.07 595.90 531.40 C598.93 530.73 601.47 530.20 603.90 529.60 C606.33 529.00 608.20 528.50 610.50 527.80 C612.80 527.10 615.37 526.25 617.70 525.40 C620.03 524.55 622.18 523.65 624.50 522.70 C626.82 521.75 629.27 520.77 631.60 519.70 C633.93 518.63 635.72 517.83 638.50 516.30 C641.28 514.77 645.55 512.35 648.30 510.50 C651.05 508.65 652.72 506.87 655.00 505.20 C657.28 503.53 659.50 501.83 662.00 500.50 C664.50 499.17 667.02 497.98 670.00 497.20 C672.98 496.42 678.25 496.03 679.90 495.80" fill="none" stroke="#a64fdc" stroke-width="1.1" stroke-linejoin="round" stroke-linecap="butt" stroke-dasharray="2.3 3.6"/>
<path d="M391.70 647.40 C397.75 647.38 420.53 647.45 428.00 647.30 C435.47 647.15 434.43 646.90 436.50 646.50 C438.57 646.10 439.08 645.82 440.40 644.90 C441.72 643.98 443.08 642.75 444.40 641.00 C445.72 639.25 447.00 636.90 448.30 634.40 C449.60 631.90 450.90 628.82 452.20 626.00 C453.50 623.18 454.80 620.02 456.10 617.50 C457.40 614.98 458.68 612.97 460.00 610.90 C461.32 608.83 462.47 607.10 464.00 605.10 C465.53 603.10 467.25 601.08 469.20 598.90 C471.15 596.72 473.53 594.28 475.70 592.00 C477.87 589.72 480.02 587.60 482.20 585.20 C484.38 582.80 486.65 580.27 488.80 577.60 C490.95 574.93 493.20 571.67 495.10 569.20 C497.00 566.73 498.50 564.83 500.20 562.80 C501.90 560.77 503.60 558.77 505.30 557.00 C507.00 555.23 508.70 553.62 510.40 552.20 C512.10 550.78 513.78 549.62 515.50 548.50 C517.22 547.38 518.98 546.40 520.70 545.50 C522.42 544.60 524.10 543.85 525.80 543.10 C527.50 542.35 528.35 541.70 530.90 541.00 C533.45 540.30 537.08 539.38 541.10 538.90 C545.12 538.42 550.98 538.40 555.00 538.10 C559.02 537.80 561.80 537.43 565.20 537.10 C568.60 536.77 571.98 536.48 575.40 536.10 C578.82 535.72 582.28 535.38 585.70 534.80 C589.12 534.22 592.87 533.23 595.90 532.60 C598.93 531.97 601.47 531.57 603.90 531.00 C606.33 530.43 608.20 529.90 610.50 529.20 C612.80 528.50 615.37 527.65 617.70 526.80 C620.03 525.95 622.18 525.05 624.50 524.10 C626.82 523.15 629.27 522.12 631.60 521.10 C633.93 520.08 636.18 519.15 638.50 518.00 C640.82 516.85 642.95 515.83 645.50 514.20 C648.05 512.57 651.03 510.08 653.80 508.20 C656.57 506.32 659.33 504.28 662.10 502.90 C664.87 501.52 667.43 500.65 670.40 499.90 C673.37 499.15 678.32 498.65 679.90 498.40" fill="none" stroke="#9400d3" stroke-width="1.5" stroke-linejoin="round" stroke-linecap="round"/>
<path d="M391.70 647.40 C397.75 647.38 420.53 647.45 428.00 647.30 C435.47 647.15 434.43 646.90 436.50 646.50 C438.57 646.10 439.08 645.82 440.40 644.90 C441.72 643.98 443.08 642.75 444.40 641.00 C445.72 639.25 447.00 636.90 448.30 634.40 C449.60 631.90 450.90 628.82 452.20 626.00 C453.50 623.18 454.80 620.02 456.10 617.50 C457.40 614.98 458.68 612.97 460.00 610.90 C461.32 608.83 462.47 607.15 464.00 605.10 C465.53 603.05 467.25 600.85 469.20 598.60 C471.15 596.35 473.53 593.95 475.70 591.60 C477.87 589.25 480.02 587.02 482.20 584.50 C484.38 581.98 486.65 579.28 488.80 576.50 C490.95 573.72 493.20 570.35 495.10 567.80 C497.00 565.25 498.50 563.28 500.20 561.20 C501.90 559.12 503.60 557.05 505.30 555.30 C507.00 553.55 508.70 552.07 510.40 550.70 C512.10 549.33 513.78 548.22 515.50 547.10 C517.22 545.98 518.98 544.93 520.70 544.00 C522.42 543.07 524.10 542.23 525.80 541.50 C527.50 540.77 529.20 540.13 530.90 539.60 C532.60 539.07 534.30 538.68 536.00 538.30 C537.70 537.92 539.40 537.58 541.10 537.30 C542.80 537.02 543.88 536.88 546.20 536.60 C548.52 536.32 551.83 535.97 555.00 535.60 C558.17 535.23 561.80 534.87 565.20 534.40 C568.60 533.93 571.98 533.28 575.40 532.80 C578.82 532.32 582.28 532.05 585.70 531.50 C589.12 530.95 592.50 530.27 595.90 529.50 C599.30 528.73 602.70 527.80 606.10 526.90 C609.50 526.00 613.15 525.07 616.30 524.10 C619.45 523.13 622.45 522.07 625.00 521.10 C627.55 520.13 628.65 519.77 631.60 518.30 C634.55 516.83 639.23 514.57 642.70 512.30 C646.17 510.03 649.17 507.02 652.40 504.70 C655.63 502.38 659.10 499.93 662.10 498.40 C665.10 496.87 667.43 496.18 670.40 495.50 C673.37 494.82 678.32 494.50 679.90 494.30" fill="none" stroke="#2e8b57" stroke-width="1.5" stroke-linejoin="round" stroke-linecap="round"/>
<path d="M391.70 647.40 C397.75 647.38 420.53 647.45 428.00 647.30 C435.47 647.15 434.43 646.90 436.50 646.50 C438.57 646.10 439.08 645.82 440.40 644.90 C441.72 643.98 443.08 642.75 444.40 641.00 C445.72 639.25 447.00 636.90 448.30 634.40 C449.60 631.90 450.90 628.82 452.20 626.00 C453.50 623.18 454.80 620.02 456.10 617.50 C457.40 614.98 458.68 612.97 460.00 610.90 C461.32 608.83 462.47 607.15 464.00 605.10 C465.53 603.05 467.25 600.92 469.20 598.60 C471.15 596.28 473.53 593.62 475.70 591.20 C477.87 588.78 480.02 586.62 482.20 584.10 C484.38 581.58 486.65 578.88 488.80 576.10 C490.95 573.32 493.20 569.95 495.10 567.40 C497.00 564.85 498.50 562.88 500.20 560.80 C501.90 558.72 503.60 556.65 505.30 554.90 C507.00 553.15 508.70 551.67 510.40 550.30 C512.10 548.93 513.78 547.82 515.50 546.70 C517.22 545.58 518.98 544.53 520.70 543.60 C522.42 542.67 524.10 541.83 525.80 541.10 C527.50 540.37 529.20 539.73 530.90 539.20 C532.60 538.67 534.30 538.28 536.00 537.90 C537.70 537.52 539.40 537.18 541.10 536.90 C542.80 536.62 543.88 536.48 546.20 536.20 C548.52 535.92 551.83 535.57 555.00 535.20 C558.17 534.83 561.80 534.47 565.20 534.00 C568.60 533.53 571.98 532.88 575.40 532.40 C578.82 531.92 582.28 531.65 585.70 531.10 C589.12 530.55 592.50 529.87 595.90 529.10 C599.30 528.33 602.70 527.40 606.10 526.50 C609.50 525.60 613.15 524.60 616.30 523.70 C619.45 522.80 622.45 522.00 625.00 521.10 C627.55 520.20 628.65 519.77 631.60 518.30 C634.55 516.83 639.23 514.57 642.70 512.30 C646.17 510.03 649.17 507.02 652.40 504.70 C655.63 502.38 659.10 499.93 662.10 498.40 C665.10 496.87 667.43 496.18 670.40 495.50 C673.37 494.82 678.32 494.50 679.90 494.30" fill="none" stroke="#87ceeb" stroke-width="1.5" stroke-linejoin="round" stroke-linecap="round"/>
<path d="M391.70 647.40 C397.75 647.38 420.53 647.45 428.00 647.30 C435.47 647.15 434.43 646.90 436.50 646.50 C438.57 646.10 439.08 645.82 440.40 644.90 C441.72 643.98 443.08 642.75 444.40 641.00 C445.72 639.25 447.00 636.90 448.30 634.40 C449.60 631.90 450.90 628.82 452.20 626.00 C453.50 623.18 454.80 620.02 456.10 617.50 C457.40 614.98 458.68 612.97 460.00 610.90 C461.32 608.83 462.47 607.10 464.00 605.10 C465.53 603.10 467.25 601.07 469.20 598.90 C471.15 596.73 473.53 594.37 475.70 592.10 C477.87 589.83 480.02 587.68 482.20 585.30 C484.38 582.92 486.65 580.45 488.80 577.80 C490.95 575.15 493.20 571.87 495.10 569.40 C497.00 566.93 498.50 565.02 500.20 563.00 C501.90 560.98 503.60 559.03 505.30 557.30 C507.00 555.57 508.70 554.00 510.40 552.60 C512.10 551.20 513.78 550.02 515.50 548.90 C517.22 547.78 518.98 546.82 520.70 545.90 C522.42 544.98 524.10 544.15 525.80 543.40 C527.50 542.65 528.35 542.10 530.90 541.40 C533.45 540.70 537.08 539.92 541.10 539.20 C545.12 538.48 550.98 537.63 555.00 537.10 C559.02 536.57 561.80 536.37 565.20 536.00 C568.60 535.63 571.98 535.38 575.40 534.90 C578.82 534.42 582.28 533.75 585.70 533.10 C589.12 532.45 592.50 531.80 595.90 531.00 C599.30 530.20 602.70 529.27 606.10 528.30 C609.50 527.33 613.15 526.25 616.30 525.20 C619.45 524.15 622.45 523.15 625.00 522.00 C627.55 520.85 628.65 520.13 631.60 518.30 C634.55 516.47 639.23 513.50 642.70 511.00 C646.17 508.50 649.17 505.63 652.40 503.30 C655.63 500.97 659.10 498.62 662.10 497.00 C665.10 495.38 667.43 494.50 670.40 493.60 C673.37 492.70 678.32 491.93 679.90 491.60" fill="none" stroke="#f4a460" stroke-width="1.5" stroke-linejoin="round" stroke-linecap="round"/>
<path d="M391.70 647.40 C397.75 647.38 420.53 647.43 428.00 647.30 C435.47 647.17 434.43 646.98 436.50 646.60 C438.57 646.22 439.08 645.90 440.40 645.00 C441.72 644.10 443.08 642.93 444.40 641.20 C445.72 639.47 447.00 637.08 448.30 634.60 C449.60 632.12 450.90 629.08 452.20 626.30 C453.50 623.52 454.80 620.40 456.10 617.90 C457.40 615.40 458.68 613.35 460.00 611.30 C461.32 609.25 462.47 607.55 464.00 605.60 C465.53 603.65 467.25 601.70 469.20 599.60 C471.15 597.50 473.53 595.17 475.70 593.00 C477.87 590.83 480.02 588.87 482.20 586.60 C484.38 584.33 486.65 581.82 488.80 579.40 C490.95 576.98 493.20 574.42 495.10 572.10 C497.00 569.78 498.50 567.53 500.20 565.50 C501.90 563.47 503.60 561.60 505.30 559.90 C507.00 558.20 508.70 556.75 510.40 555.30 C512.10 553.85 513.78 552.40 515.50 551.20 C517.22 550.00 518.98 549.05 520.70 548.10 C522.42 547.15 524.10 546.27 525.80 545.50 C527.50 544.73 528.35 544.20 530.90 543.50 C533.45 542.80 537.08 541.88 541.10 541.30 C545.12 540.72 550.98 540.45 555.00 540.00 C559.02 539.55 561.80 539.17 565.20 538.60 C568.60 538.03 571.98 537.37 575.40 536.60 C578.82 535.83 582.28 534.85 585.70 534.00 C589.12 533.15 592.50 532.43 595.90 531.50 C599.30 530.57 602.70 529.50 606.10 528.40 C609.50 527.30 613.15 526.08 616.30 524.90 C619.45 523.72 622.45 522.47 625.00 521.30 C627.55 520.13 628.65 519.63 631.60 517.90 C634.55 516.17 639.23 513.33 642.70 510.90 C646.17 508.47 649.17 505.62 652.40 503.30 C655.63 500.98 659.10 498.62 662.10 497.00 C665.10 495.38 667.43 494.52 670.40 493.60 C673.37 492.68 678.32 491.85 679.90 491.50" fill="none" stroke="#ffd700" stroke-width="1.5" stroke-linejoin="round" stroke-linecap="round"/>
</g>
</svg>
</body></html>
